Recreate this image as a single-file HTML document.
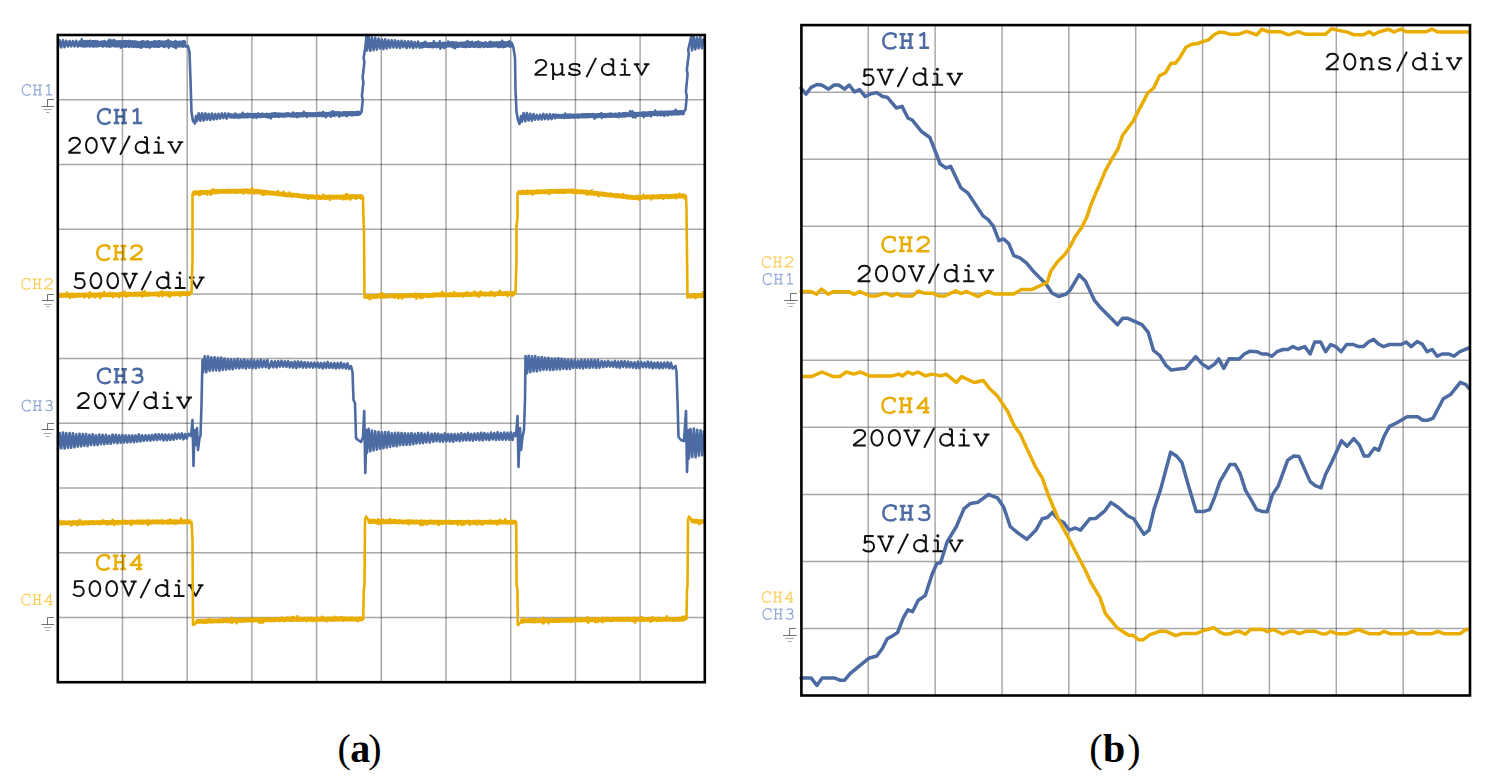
<!DOCTYPE html><html><head><meta charset="utf-8"><title>Waveforms</title><style>html,body{margin:0;padding:0;background:#fff;width:1490px;height:781px;overflow:hidden}svg{display:block;font-family:"Liberation Mono",monospace}</style></head><body><svg width="1490" height="781" viewBox="0 0 1490 781">
<rect width="1490" height="781" fill="#fff"/>
<path d="M47.5,99.5H54.0M47.5,99.5V106.5M41.5,106.5H54.0M47.5,294.5H54.0M47.5,294.5V300.5M41.7,300.5H54.0M47.5,423.5H54.0M47.5,423.5V429.5M41.5,429.5H54.0M47.5,617.5H54.0M47.5,617.5V624.5M41.5,624.5H54.0M790.5,293.5H797.0M790.5,293.5V300.5M784.1,300.5H797.8M789.5,628.5H796.0M789.5,628.5V635.5M783.0,635.5H796.6" stroke="#000" stroke-opacity="0.55" stroke-width="1.0" fill="none"/>
<path d="M43.9,109.5H51.6M46.1,112.5H49.4M44.0,304.5H51.7M46.3,306.5H49.4M43.9,433.5H51.6M46.1,436.5H49.4M43.9,627.5H51.6M46.1,630.5H49.4M786.7,303.5H795.2M789.2,306.5H792.7M785.6,638.5H794.0M788.0,641.5H791.6" stroke="#000" stroke-opacity="0.35" stroke-width="1.0" fill="none"/>
<g><title>CH1</title><g transform="translate(20.31,95.30) scale(0.6786,0.6786)"><g fill="none" stroke="#91a8d4" stroke-width="1.250" stroke-linecap="butt" stroke-linejoin="round"><path vector-effect="non-scaling-stroke" transform="translate(0.00,0)" d="M14.6,-11.0 V-14.5 C13.2,-15.4 11.6,-15.9 10.0,-15.9 C5.6,-15.9 2.8,-12.4 2.8,-7.8 C2.8,-3.0 5.6,0.2 9.8,0.2 C12.0,0.2 13.8,-0.7 15.2,-2.2"/><path vector-effect="non-scaling-stroke" transform="translate(16.80,0)" d="M4.6,-15.0 V-0.8 M12.2,-15.0 V-0.8 M4.6,-8.0 H12.2 M1.8,-15.0 H7.4 M9.4,-15.0 H15.0 M1.8,-0.8 H7.4 M9.4,-0.8 H15.0"/><path vector-effect="non-scaling-stroke" transform="translate(33.60,0)" d="M4.0,-13.2 L8.6,-16.0 V-0.8 M4.2,-0.8 H13.4"/></g><g fill="#91a8d4"></g></g></g>
<g><title>CH2</title><g transform="translate(19.98,289.25) scale(0.6786,0.6786)"><g fill="none" stroke="#f9cd55" stroke-width="1.250" stroke-linecap="butt" stroke-linejoin="round"><path vector-effect="non-scaling-stroke" transform="translate(0.00,0)" d="M14.6,-11.0 V-14.5 C13.2,-15.4 11.6,-15.9 10.0,-15.9 C5.6,-15.9 2.8,-12.4 2.8,-7.8 C2.8,-3.0 5.6,0.2 9.8,0.2 C12.0,0.2 13.8,-0.7 15.2,-2.2"/><path vector-effect="non-scaling-stroke" transform="translate(16.80,0)" d="M4.6,-15.0 V-0.8 M12.2,-15.0 V-0.8 M4.6,-8.0 H12.2 M1.8,-15.0 H7.4 M9.4,-15.0 H15.0 M1.8,-0.8 H7.4 M9.4,-0.8 H15.0"/><path vector-effect="non-scaling-stroke" transform="translate(33.60,0)" d="M3.2,-11.8 C3.5,-14.2 5.7,-15.6 8.6,-15.6 C11.6,-15.6 13.8,-13.9 13.8,-11.5 C13.8,-9.2 11.4,-7.6 8.6,-5.6 L2.9,-1.2 V-0.6 H14.4"/></g><g fill="#f9cd55"></g></g></g>
<g><title>CH3</title><g transform="translate(20.30,410.95) scale(0.6786,0.6786)"><g fill="none" stroke="#91a8d4" stroke-width="1.250" stroke-linecap="butt" stroke-linejoin="round"><path vector-effect="non-scaling-stroke" transform="translate(0.00,0)" d="M14.6,-11.0 V-14.5 C13.2,-15.4 11.6,-15.9 10.0,-15.9 C5.6,-15.9 2.8,-12.4 2.8,-7.8 C2.8,-3.0 5.6,0.2 9.8,0.2 C12.0,0.2 13.8,-0.7 15.2,-2.2"/><path vector-effect="non-scaling-stroke" transform="translate(16.80,0)" d="M4.6,-15.0 V-0.8 M12.2,-15.0 V-0.8 M4.6,-8.0 H12.2 M1.8,-15.0 H7.4 M9.4,-15.0 H15.0 M1.8,-0.8 H7.4 M9.4,-0.8 H15.0"/><path vector-effect="non-scaling-stroke" transform="translate(33.60,0)" d="M4.0,-13.6 C5.0,-15.0 6.6,-15.6 8.4,-15.6 C11.0,-15.6 12.8,-14.2 12.8,-12.0 C12.8,-9.8 11.0,-8.4 8.2,-8.4 H6.8 M8.2,-8.4 C11.6,-8.4 13.6,-6.8 13.6,-4.4 C13.6,-1.8 11.4,-0.4 8.4,-0.4 C6.2,-0.4 4.4,-1.0 3.0,-2.4"/></g><g fill="#91a8d4"></g></g></g>
<g><title>CH4</title><g transform="translate(19.97,604.95) scale(0.6786,0.6786)"><g fill="none" stroke="#f9cd55" stroke-width="1.250" stroke-linecap="butt" stroke-linejoin="round"><path vector-effect="non-scaling-stroke" transform="translate(0.00,0)" d="M14.6,-11.0 V-14.5 C13.2,-15.4 11.6,-15.9 10.0,-15.9 C5.6,-15.9 2.8,-12.4 2.8,-7.8 C2.8,-3.0 5.6,0.2 9.8,0.2 C12.0,0.2 13.8,-0.7 15.2,-2.2"/><path vector-effect="non-scaling-stroke" transform="translate(16.80,0)" d="M4.6,-15.0 V-0.8 M12.2,-15.0 V-0.8 M4.6,-8.0 H12.2 M1.8,-15.0 H7.4 M9.4,-15.0 H15.0 M1.8,-0.8 H7.4 M9.4,-0.8 H15.0"/><path vector-effect="non-scaling-stroke" transform="translate(33.60,0)" d="M11.4,-0.6 V-15.6 L3.0,-5.0 H14.4 M8.2,-0.6 H14.4"/></g><g fill="#f9cd55"></g></g></g>
<g><title>CH2</title><g transform="translate(760.43,267.35) scale(0.6786,0.6786)"><g fill="none" stroke="#f9cd55" stroke-width="1.250" stroke-linecap="butt" stroke-linejoin="round"><path vector-effect="non-scaling-stroke" transform="translate(0.00,0)" d="M14.6,-11.0 V-14.5 C13.2,-15.4 11.6,-15.9 10.0,-15.9 C5.6,-15.9 2.8,-12.4 2.8,-7.8 C2.8,-3.0 5.6,0.2 9.8,0.2 C12.0,0.2 13.8,-0.7 15.2,-2.2"/><path vector-effect="non-scaling-stroke" transform="translate(16.80,0)" d="M4.6,-15.0 V-0.8 M12.2,-15.0 V-0.8 M4.6,-8.0 H12.2 M1.8,-15.0 H7.4 M9.4,-15.0 H15.0 M1.8,-0.8 H7.4 M9.4,-0.8 H15.0"/><path vector-effect="non-scaling-stroke" transform="translate(33.60,0)" d="M3.2,-11.8 C3.5,-14.2 5.7,-15.6 8.6,-15.6 C11.6,-15.6 13.8,-13.9 13.8,-11.5 C13.8,-9.2 11.4,-7.6 8.6,-5.6 L2.9,-1.2 V-0.6 H14.4"/></g><g fill="#f9cd55"></g></g></g>
<g><title>CH1</title><g transform="translate(761.26,284.45) scale(0.6786,0.6786)"><g fill="none" stroke="#91a8d4" stroke-width="1.250" stroke-linecap="butt" stroke-linejoin="round"><path vector-effect="non-scaling-stroke" transform="translate(0.00,0)" d="M14.6,-11.0 V-14.5 C13.2,-15.4 11.6,-15.9 10.0,-15.9 C5.6,-15.9 2.8,-12.4 2.8,-7.8 C2.8,-3.0 5.6,0.2 9.8,0.2 C12.0,0.2 13.8,-0.7 15.2,-2.2"/><path vector-effect="non-scaling-stroke" transform="translate(16.80,0)" d="M4.6,-15.0 V-0.8 M12.2,-15.0 V-0.8 M4.6,-8.0 H12.2 M1.8,-15.0 H7.4 M9.4,-15.0 H15.0 M1.8,-0.8 H7.4 M9.4,-0.8 H15.0"/><path vector-effect="non-scaling-stroke" transform="translate(33.60,0)" d="M4.0,-13.2 L8.6,-16.0 V-0.8 M4.2,-0.8 H13.4"/></g><g fill="#91a8d4"></g></g></g>
<g><title>CH4</title><g transform="translate(760.52,602.35) scale(0.6786,0.6786)"><g fill="none" stroke="#f9cd55" stroke-width="1.250" stroke-linecap="butt" stroke-linejoin="round"><path vector-effect="non-scaling-stroke" transform="translate(0.00,0)" d="M14.6,-11.0 V-14.5 C13.2,-15.4 11.6,-15.9 10.0,-15.9 C5.6,-15.9 2.8,-12.4 2.8,-7.8 C2.8,-3.0 5.6,0.2 9.8,0.2 C12.0,0.2 13.8,-0.7 15.2,-2.2"/><path vector-effect="non-scaling-stroke" transform="translate(16.80,0)" d="M4.6,-15.0 V-0.8 M12.2,-15.0 V-0.8 M4.6,-8.0 H12.2 M1.8,-15.0 H7.4 M9.4,-15.0 H15.0 M1.8,-0.8 H7.4 M9.4,-0.8 H15.0"/><path vector-effect="non-scaling-stroke" transform="translate(33.60,0)" d="M11.4,-0.6 V-15.6 L3.0,-5.0 H14.4 M8.2,-0.6 H14.4"/></g><g fill="#f9cd55"></g></g></g>
<g><title>CH3</title><g transform="translate(761.10,619.35) scale(0.6786,0.6786)"><g fill="none" stroke="#91a8d4" stroke-width="1.250" stroke-linecap="butt" stroke-linejoin="round"><path vector-effect="non-scaling-stroke" transform="translate(0.00,0)" d="M14.6,-11.0 V-14.5 C13.2,-15.4 11.6,-15.9 10.0,-15.9 C5.6,-15.9 2.8,-12.4 2.8,-7.8 C2.8,-3.0 5.6,0.2 9.8,0.2 C12.0,0.2 13.8,-0.7 15.2,-2.2"/><path vector-effect="non-scaling-stroke" transform="translate(16.80,0)" d="M4.6,-15.0 V-0.8 M12.2,-15.0 V-0.8 M4.6,-8.0 H12.2 M1.8,-15.0 H7.4 M9.4,-15.0 H15.0 M1.8,-0.8 H7.4 M9.4,-0.8 H15.0"/><path vector-effect="non-scaling-stroke" transform="translate(33.60,0)" d="M4.0,-13.6 C5.0,-15.0 6.6,-15.6 8.4,-15.6 C11.0,-15.6 12.8,-14.2 12.8,-12.0 C12.8,-9.8 11.0,-8.4 8.2,-8.4 H6.8 M8.2,-8.4 C11.6,-8.4 13.6,-6.8 13.6,-4.4 C13.6,-1.8 11.4,-0.4 8.4,-0.4 C6.2,-0.4 4.4,-1.0 3.0,-2.4"/></g><g fill="#91a8d4"></g></g></g>
<g><title>CH1</title><g transform="translate(95.13,123.75) scale(1.0000,0.9200)"><g fill="none" stroke="#4b6ba2" stroke-width="2.500" stroke-linecap="butt" stroke-linejoin="round"><path vector-effect="non-scaling-stroke" transform="translate(0.00,0)" d="M14.6,-11.0 V-14.5 C13.2,-15.4 11.6,-15.9 10.0,-15.9 C5.6,-15.9 2.8,-12.4 2.8,-7.8 C2.8,-3.0 5.6,0.2 9.8,0.2 C12.0,0.2 13.8,-0.7 15.2,-2.2"/><path vector-effect="non-scaling-stroke" transform="translate(16.80,0)" d="M4.6,-15.0 V-0.8 M12.2,-15.0 V-0.8 M4.6,-8.0 H12.2 M1.8,-15.0 H7.4 M9.4,-15.0 H15.0 M1.8,-0.8 H7.4 M9.4,-0.8 H15.0"/><path vector-effect="non-scaling-stroke" transform="translate(33.60,0)" d="M4.0,-13.2 L8.6,-16.0 V-0.8 M4.2,-0.8 H13.4"/></g><g fill="#4b6ba2"></g></g></g>
<g><title>20V/div</title><g transform="translate(66.21,153.33) scale(1.0000,1.0000)"><g fill="none" stroke="#111" stroke-width="1.950" stroke-linecap="butt" stroke-linejoin="round"><path vector-effect="non-scaling-stroke" transform="translate(0.00,0)" d="M3.2,-11.8 C3.5,-14.2 5.7,-15.6 8.6,-15.6 C11.6,-15.6 13.8,-13.9 13.8,-11.5 C13.8,-9.2 11.4,-7.6 8.6,-5.6 L2.9,-1.2 V-0.6 H14.4"/><path vector-effect="non-scaling-stroke" transform="translate(16.80,0)" d="M8.4,-15.6 C11.4,-15.6 13.8,-12.4 13.8,-8.0 C13.8,-3.6 11.4,-0.4 8.4,-0.4 C5.4,-0.4 3.0,-3.6 3.0,-8.0 C3.0,-12.4 5.4,-15.6 8.4,-15.6 Z"/><path vector-effect="non-scaling-stroke" transform="translate(33.60,0)" d="M0.4,-15.0 H6.4 M10.6,-15.0 H16.6 M2.6,-15.0 L8.6,-0.8 L14.6,-15.0"/><path vector-effect="non-scaling-stroke" transform="translate(50.40,0)" d="M13.2,-17.6 L3.6,1.6"/><path vector-effect="non-scaling-stroke" transform="translate(67.20,0)" d="M13.6,-16.2 V-0.6 M10.6,-16.2 H13.6 M13.6,-0.6 H16.2 M13.6,-8.6 C12.4,-10.6 10.6,-11.6 8.2,-11.6 C4.8,-11.6 2.2,-9.2 2.2,-5.9 C2.2,-2.6 4.8,-0.4 8.2,-0.4 C10.6,-0.4 12.4,-1.4 13.6,-3.2"/><path vector-effect="non-scaling-stroke" transform="translate(84.00,0)" d="M8.4,-11.2 V-0.6 M4.4,-11.2 H8.4 M3.2,-0.6 H14.0"/><path vector-effect="non-scaling-stroke" transform="translate(100.80,0)" d="M0.6,-11.2 H6.2 M10.6,-11.2 H16.2 M2.6,-11.2 L8.4,-0.6 L14.2,-11.2"/></g><g fill="#111"><circle cx="92.40" cy="-15.6" r="1.52"/></g></g></g>
<g><title>2µs/div</title><g transform="translate(532.46,75.48) scale(1.0000,1.0000)"><g fill="none" stroke="#111" stroke-width="1.950" stroke-linecap="butt" stroke-linejoin="round"><path vector-effect="non-scaling-stroke" transform="translate(0.00,0)" d="M3.2,-11.8 C3.5,-14.2 5.7,-15.6 8.6,-15.6 C11.6,-15.6 13.8,-13.9 13.8,-11.5 C13.8,-9.2 11.4,-7.6 8.6,-5.6 L2.9,-1.2 V-0.6 H14.4"/><path vector-effect="non-scaling-stroke" transform="translate(16.80,0)" d="M1.4,-11.2 H3.8 V4.6 M3.8,-4.6 C4.0,-1.8 5.8,-0.6 8.0,-0.6 C10.2,-0.6 11.8,-1.6 13.0,-3.0 M10.6,-11.2 H13.0 V-0.6 H15.6"/><path vector-effect="non-scaling-stroke" transform="translate(33.60,0)" d="M13.2,-8.4 V-10.6 C12.0,-11.4 10.4,-11.6 8.6,-11.6 C5.4,-11.6 3.6,-10.4 3.6,-8.6 C3.6,-6.6 5.8,-6.2 8.4,-5.8 C11.6,-5.4 13.8,-4.8 13.8,-2.8 C13.8,-1.2 11.8,-0.4 8.6,-0.4 C6.4,-0.4 4.6,-0.8 3.2,-1.6 M3.2,-0.6 V-3.6"/><path vector-effect="non-scaling-stroke" transform="translate(50.40,0)" d="M13.2,-17.6 L3.6,1.6"/><path vector-effect="non-scaling-stroke" transform="translate(67.20,0)" d="M13.6,-16.2 V-0.6 M10.6,-16.2 H13.6 M13.6,-0.6 H16.2 M13.6,-8.6 C12.4,-10.6 10.6,-11.6 8.2,-11.6 C4.8,-11.6 2.2,-9.2 2.2,-5.9 C2.2,-2.6 4.8,-0.4 8.2,-0.4 C10.6,-0.4 12.4,-1.4 13.6,-3.2"/><path vector-effect="non-scaling-stroke" transform="translate(84.00,0)" d="M8.4,-11.2 V-0.6 M4.4,-11.2 H8.4 M3.2,-0.6 H14.0"/><path vector-effect="non-scaling-stroke" transform="translate(100.80,0)" d="M0.6,-11.2 H6.2 M10.6,-11.2 H16.2 M2.6,-11.2 L8.4,-0.6 L14.2,-11.2"/></g><g fill="#111"><circle cx="92.40" cy="-15.6" r="1.52"/></g></g></g>
<g><title>CH2</title><g transform="translate(94.46,259.90) scale(1.0000,0.9200)"><g fill="none" stroke="#e8ad00" stroke-width="2.500" stroke-linecap="butt" stroke-linejoin="round"><path vector-effect="non-scaling-stroke" transform="translate(0.00,0)" d="M14.6,-11.0 V-14.5 C13.2,-15.4 11.6,-15.9 10.0,-15.9 C5.6,-15.9 2.8,-12.4 2.8,-7.8 C2.8,-3.0 5.6,0.2 9.8,0.2 C12.0,0.2 13.8,-0.7 15.2,-2.2"/><path vector-effect="non-scaling-stroke" transform="translate(16.80,0)" d="M4.6,-15.0 V-0.8 M12.2,-15.0 V-0.8 M4.6,-8.0 H12.2 M1.8,-15.0 H7.4 M9.4,-15.0 H15.0 M1.8,-0.8 H7.4 M9.4,-0.8 H15.0"/><path vector-effect="non-scaling-stroke" transform="translate(33.60,0)" d="M3.2,-11.8 C3.5,-14.2 5.7,-15.6 8.6,-15.6 C11.6,-15.6 13.8,-13.9 13.8,-11.5 C13.8,-9.2 11.4,-7.6 8.6,-5.6 L2.9,-1.2 V-0.6 H14.4"/></g><g fill="#e8ad00"></g></g></g>
<g><title>500V/div</title><g transform="translate(70.74,288.68) scale(1.0000,1.0000)"><g fill="none" stroke="#111" stroke-width="1.950" stroke-linecap="butt" stroke-linejoin="round"><path vector-effect="non-scaling-stroke" transform="translate(0.00,0)" d="M13.6,-15.4 H5.4 L5.0,-8.8 C6.2,-9.6 7.6,-10.0 9.0,-10.0 C12.0,-10.0 14.0,-7.9 14.0,-5.1 C14.0,-2.2 11.8,-0.4 8.8,-0.4 C6.6,-0.4 4.6,-1.2 3.2,-2.6"/><path vector-effect="non-scaling-stroke" transform="translate(16.80,0)" d="M8.4,-15.6 C11.4,-15.6 13.8,-12.4 13.8,-8.0 C13.8,-3.6 11.4,-0.4 8.4,-0.4 C5.4,-0.4 3.0,-3.6 3.0,-8.0 C3.0,-12.4 5.4,-15.6 8.4,-15.6 Z"/><path vector-effect="non-scaling-stroke" transform="translate(33.60,0)" d="M8.4,-15.6 C11.4,-15.6 13.8,-12.4 13.8,-8.0 C13.8,-3.6 11.4,-0.4 8.4,-0.4 C5.4,-0.4 3.0,-3.6 3.0,-8.0 C3.0,-12.4 5.4,-15.6 8.4,-15.6 Z"/><path vector-effect="non-scaling-stroke" transform="translate(50.40,0)" d="M0.4,-15.0 H6.4 M10.6,-15.0 H16.6 M2.6,-15.0 L8.6,-0.8 L14.6,-15.0"/><path vector-effect="non-scaling-stroke" transform="translate(67.20,0)" d="M13.2,-17.6 L3.6,1.6"/><path vector-effect="non-scaling-stroke" transform="translate(84.00,0)" d="M13.6,-16.2 V-0.6 M10.6,-16.2 H13.6 M13.6,-0.6 H16.2 M13.6,-8.6 C12.4,-10.6 10.6,-11.6 8.2,-11.6 C4.8,-11.6 2.2,-9.2 2.2,-5.9 C2.2,-2.6 4.8,-0.4 8.2,-0.4 C10.6,-0.4 12.4,-1.4 13.6,-3.2"/><path vector-effect="non-scaling-stroke" transform="translate(100.80,0)" d="M8.4,-11.2 V-0.6 M4.4,-11.2 H8.4 M3.2,-0.6 H14.0"/><path vector-effect="non-scaling-stroke" transform="translate(117.60,0)" d="M0.6,-11.2 H6.2 M10.6,-11.2 H16.2 M2.6,-11.2 L8.4,-0.6 L14.2,-11.2"/></g><g fill="#111"><circle cx="109.20" cy="-15.6" r="1.52"/></g></g></g>
<g><title>CH3</title><g transform="translate(95.15,383.10) scale(1.0000,0.9200)"><g fill="none" stroke="#4b6ba2" stroke-width="2.500" stroke-linecap="butt" stroke-linejoin="round"><path vector-effect="non-scaling-stroke" transform="translate(0.00,0)" d="M14.6,-11.0 V-14.5 C13.2,-15.4 11.6,-15.9 10.0,-15.9 C5.6,-15.9 2.8,-12.4 2.8,-7.8 C2.8,-3.0 5.6,0.2 9.8,0.2 C12.0,0.2 13.8,-0.7 15.2,-2.2"/><path vector-effect="non-scaling-stroke" transform="translate(16.80,0)" d="M4.6,-15.0 V-0.8 M12.2,-15.0 V-0.8 M4.6,-8.0 H12.2 M1.8,-15.0 H7.4 M9.4,-15.0 H15.0 M1.8,-0.8 H7.4 M9.4,-0.8 H15.0"/><path vector-effect="non-scaling-stroke" transform="translate(33.60,0)" d="M4.0,-13.6 C5.0,-15.0 6.6,-15.6 8.4,-15.6 C11.0,-15.6 12.8,-14.2 12.8,-12.0 C12.8,-9.8 11.0,-8.4 8.2,-8.4 H6.8 M8.2,-8.4 C11.6,-8.4 13.6,-6.8 13.6,-4.4 C13.6,-1.8 11.4,-0.4 8.4,-0.4 C6.2,-0.4 4.4,-1.0 3.0,-2.4"/></g><g fill="#4b6ba2"></g></g></g>
<g><title>20V/div</title><g transform="translate(74.96,408.68) scale(1.0000,1.0000)"><g fill="none" stroke="#111" stroke-width="1.950" stroke-linecap="butt" stroke-linejoin="round"><path vector-effect="non-scaling-stroke" transform="translate(0.00,0)" d="M3.2,-11.8 C3.5,-14.2 5.7,-15.6 8.6,-15.6 C11.6,-15.6 13.8,-13.9 13.8,-11.5 C13.8,-9.2 11.4,-7.6 8.6,-5.6 L2.9,-1.2 V-0.6 H14.4"/><path vector-effect="non-scaling-stroke" transform="translate(16.80,0)" d="M8.4,-15.6 C11.4,-15.6 13.8,-12.4 13.8,-8.0 C13.8,-3.6 11.4,-0.4 8.4,-0.4 C5.4,-0.4 3.0,-3.6 3.0,-8.0 C3.0,-12.4 5.4,-15.6 8.4,-15.6 Z"/><path vector-effect="non-scaling-stroke" transform="translate(33.60,0)" d="M0.4,-15.0 H6.4 M10.6,-15.0 H16.6 M2.6,-15.0 L8.6,-0.8 L14.6,-15.0"/><path vector-effect="non-scaling-stroke" transform="translate(50.40,0)" d="M13.2,-17.6 L3.6,1.6"/><path vector-effect="non-scaling-stroke" transform="translate(67.20,0)" d="M13.6,-16.2 V-0.6 M10.6,-16.2 H13.6 M13.6,-0.6 H16.2 M13.6,-8.6 C12.4,-10.6 10.6,-11.6 8.2,-11.6 C4.8,-11.6 2.2,-9.2 2.2,-5.9 C2.2,-2.6 4.8,-0.4 8.2,-0.4 C10.6,-0.4 12.4,-1.4 13.6,-3.2"/><path vector-effect="non-scaling-stroke" transform="translate(84.00,0)" d="M8.4,-11.2 V-0.6 M4.4,-11.2 H8.4 M3.2,-0.6 H14.0"/><path vector-effect="non-scaling-stroke" transform="translate(100.80,0)" d="M0.6,-11.2 H6.2 M10.6,-11.2 H16.2 M2.6,-11.2 L8.4,-0.6 L14.2,-11.2"/></g><g fill="#111"><circle cx="92.40" cy="-15.6" r="1.52"/></g></g></g>
<g><title>CH4</title><g transform="translate(94.23,569.65) scale(1.0000,0.9200)"><g fill="none" stroke="#e8ad00" stroke-width="2.500" stroke-linecap="butt" stroke-linejoin="round"><path vector-effect="non-scaling-stroke" transform="translate(0.00,0)" d="M14.6,-11.0 V-14.5 C13.2,-15.4 11.6,-15.9 10.0,-15.9 C5.6,-15.9 2.8,-12.4 2.8,-7.8 C2.8,-3.0 5.6,0.2 9.8,0.2 C12.0,0.2 13.8,-0.7 15.2,-2.2"/><path vector-effect="non-scaling-stroke" transform="translate(16.80,0)" d="M4.6,-15.0 V-0.8 M12.2,-15.0 V-0.8 M4.6,-8.0 H12.2 M1.8,-15.0 H7.4 M9.4,-15.0 H15.0 M1.8,-0.8 H7.4 M9.4,-0.8 H15.0"/><path vector-effect="non-scaling-stroke" transform="translate(33.60,0)" d="M11.4,-0.6 V-15.6 L3.0,-5.0 H14.4 M8.2,-0.6 H14.4"/></g><g fill="#e8ad00"></g></g></g>
<g><title>500V/div</title><g transform="translate(69.69,596.53) scale(1.0000,1.0000)"><g fill="none" stroke="#111" stroke-width="1.950" stroke-linecap="butt" stroke-linejoin="round"><path vector-effect="non-scaling-stroke" transform="translate(0.00,0)" d="M13.6,-15.4 H5.4 L5.0,-8.8 C6.2,-9.6 7.6,-10.0 9.0,-10.0 C12.0,-10.0 14.0,-7.9 14.0,-5.1 C14.0,-2.2 11.8,-0.4 8.8,-0.4 C6.6,-0.4 4.6,-1.2 3.2,-2.6"/><path vector-effect="non-scaling-stroke" transform="translate(16.80,0)" d="M8.4,-15.6 C11.4,-15.6 13.8,-12.4 13.8,-8.0 C13.8,-3.6 11.4,-0.4 8.4,-0.4 C5.4,-0.4 3.0,-3.6 3.0,-8.0 C3.0,-12.4 5.4,-15.6 8.4,-15.6 Z"/><path vector-effect="non-scaling-stroke" transform="translate(33.60,0)" d="M8.4,-15.6 C11.4,-15.6 13.8,-12.4 13.8,-8.0 C13.8,-3.6 11.4,-0.4 8.4,-0.4 C5.4,-0.4 3.0,-3.6 3.0,-8.0 C3.0,-12.4 5.4,-15.6 8.4,-15.6 Z"/><path vector-effect="non-scaling-stroke" transform="translate(50.40,0)" d="M0.4,-15.0 H6.4 M10.6,-15.0 H16.6 M2.6,-15.0 L8.6,-0.8 L14.6,-15.0"/><path vector-effect="non-scaling-stroke" transform="translate(67.20,0)" d="M13.2,-17.6 L3.6,1.6"/><path vector-effect="non-scaling-stroke" transform="translate(84.00,0)" d="M13.6,-16.2 V-0.6 M10.6,-16.2 H13.6 M13.6,-0.6 H16.2 M13.6,-8.6 C12.4,-10.6 10.6,-11.6 8.2,-11.6 C4.8,-11.6 2.2,-9.2 2.2,-5.9 C2.2,-2.6 4.8,-0.4 8.2,-0.4 C10.6,-0.4 12.4,-1.4 13.6,-3.2"/><path vector-effect="non-scaling-stroke" transform="translate(100.80,0)" d="M8.4,-11.2 V-0.6 M4.4,-11.2 H8.4 M3.2,-0.6 H14.0"/><path vector-effect="non-scaling-stroke" transform="translate(117.60,0)" d="M0.6,-11.2 H6.2 M10.6,-11.2 H16.2 M2.6,-11.2 L8.4,-0.6 L14.2,-11.2"/></g><g fill="#111"><circle cx="109.20" cy="-15.6" r="1.52"/></g></g></g>
<g><title>CH1</title><g transform="translate(880.38,48.42) scale(1.0357,0.9529)"><g fill="none" stroke="#4b6ba2" stroke-width="2.500" stroke-linecap="butt" stroke-linejoin="round"><path vector-effect="non-scaling-stroke" transform="translate(0.00,0)" d="M14.6,-11.0 V-14.5 C13.2,-15.4 11.6,-15.9 10.0,-15.9 C5.6,-15.9 2.8,-12.4 2.8,-7.8 C2.8,-3.0 5.6,0.2 9.8,0.2 C12.0,0.2 13.8,-0.7 15.2,-2.2"/><path vector-effect="non-scaling-stroke" transform="translate(16.80,0)" d="M4.6,-15.0 V-0.8 M12.2,-15.0 V-0.8 M4.6,-8.0 H12.2 M1.8,-15.0 H7.4 M9.4,-15.0 H15.0 M1.8,-0.8 H7.4 M9.4,-0.8 H15.0"/><path vector-effect="non-scaling-stroke" transform="translate(33.60,0)" d="M4.0,-13.2 L8.6,-16.0 V-0.8 M4.2,-0.8 H13.4"/></g><g fill="#4b6ba2"></g></g></g>
<g><title>5V/div</title><g transform="translate(859.05,85.38) scale(1.0357,1.0357)"><g fill="none" stroke="#111" stroke-width="2.000" stroke-linecap="butt" stroke-linejoin="round"><path vector-effect="non-scaling-stroke" transform="translate(0.00,0)" d="M13.6,-15.4 H5.4 L5.0,-8.8 C6.2,-9.6 7.6,-10.0 9.0,-10.0 C12.0,-10.0 14.0,-7.9 14.0,-5.1 C14.0,-2.2 11.8,-0.4 8.8,-0.4 C6.6,-0.4 4.6,-1.2 3.2,-2.6"/><path vector-effect="non-scaling-stroke" transform="translate(16.80,0)" d="M0.4,-15.0 H6.4 M10.6,-15.0 H16.6 M2.6,-15.0 L8.6,-0.8 L14.6,-15.0"/><path vector-effect="non-scaling-stroke" transform="translate(33.60,0)" d="M13.2,-17.6 L3.6,1.6"/><path vector-effect="non-scaling-stroke" transform="translate(50.40,0)" d="M13.6,-16.2 V-0.6 M10.6,-16.2 H13.6 M13.6,-0.6 H16.2 M13.6,-8.6 C12.4,-10.6 10.6,-11.6 8.2,-11.6 C4.8,-11.6 2.2,-9.2 2.2,-5.9 C2.2,-2.6 4.8,-0.4 8.2,-0.4 C10.6,-0.4 12.4,-1.4 13.6,-3.2"/><path vector-effect="non-scaling-stroke" transform="translate(67.20,0)" d="M8.4,-11.2 V-0.6 M4.4,-11.2 H8.4 M3.2,-0.6 H14.0"/><path vector-effect="non-scaling-stroke" transform="translate(84.00,0)" d="M0.6,-11.2 H6.2 M10.6,-11.2 H16.2 M2.6,-11.2 L8.4,-0.6 L14.2,-11.2"/></g><g fill="#111"><circle cx="75.60" cy="-15.6" r="1.51"/></g></g></g>
<g><title>20ns/div</title><g transform="translate(1323.67,69.97) scale(1.0357,1.0357)"><g fill="none" stroke="#111" stroke-width="2.000" stroke-linecap="butt" stroke-linejoin="round"><path vector-effect="non-scaling-stroke" transform="translate(0.00,0)" d="M3.2,-11.8 C3.5,-14.2 5.7,-15.6 8.6,-15.6 C11.6,-15.6 13.8,-13.9 13.8,-11.5 C13.8,-9.2 11.4,-7.6 8.6,-5.6 L2.9,-1.2 V-0.6 H14.4"/><path vector-effect="non-scaling-stroke" transform="translate(16.80,0)" d="M8.4,-15.6 C11.4,-15.6 13.8,-12.4 13.8,-8.0 C13.8,-3.6 11.4,-0.4 8.4,-0.4 C5.4,-0.4 3.0,-3.6 3.0,-8.0 C3.0,-12.4 5.4,-15.6 8.4,-15.6 Z"/><path vector-effect="non-scaling-stroke" transform="translate(33.60,0)" d="M1.4,-11.2 H4.0 V-0.6 M1.4,-0.6 H7.0 M4.0,-8.4 C5.4,-10.4 7.4,-11.6 9.4,-11.6 C11.4,-11.6 12.6,-10.4 12.6,-8.2 V-0.6 M10.0,-0.6 H15.4"/><path vector-effect="non-scaling-stroke" transform="translate(50.40,0)" d="M13.2,-8.4 V-10.6 C12.0,-11.4 10.4,-11.6 8.6,-11.6 C5.4,-11.6 3.6,-10.4 3.6,-8.6 C3.6,-6.6 5.8,-6.2 8.4,-5.8 C11.6,-5.4 13.8,-4.8 13.8,-2.8 C13.8,-1.2 11.8,-0.4 8.6,-0.4 C6.4,-0.4 4.6,-0.8 3.2,-1.6 M3.2,-0.6 V-3.6"/><path vector-effect="non-scaling-stroke" transform="translate(67.20,0)" d="M13.2,-17.6 L3.6,1.6"/><path vector-effect="non-scaling-stroke" transform="translate(84.00,0)" d="M13.6,-16.2 V-0.6 M10.6,-16.2 H13.6 M13.6,-0.6 H16.2 M13.6,-8.6 C12.4,-10.6 10.6,-11.6 8.2,-11.6 C4.8,-11.6 2.2,-9.2 2.2,-5.9 C2.2,-2.6 4.8,-0.4 8.2,-0.4 C10.6,-0.4 12.4,-1.4 13.6,-3.2"/><path vector-effect="non-scaling-stroke" transform="translate(100.80,0)" d="M8.4,-11.2 V-0.6 M4.4,-11.2 H8.4 M3.2,-0.6 H14.0"/><path vector-effect="non-scaling-stroke" transform="translate(117.60,0)" d="M0.6,-11.2 H6.2 M10.6,-11.2 H16.2 M2.6,-11.2 L8.4,-0.6 L14.2,-11.2"/></g><g fill="#111"><circle cx="109.20" cy="-15.6" r="1.51"/></g></g></g>
<g><title>CH2</title><g transform="translate(879.64,251.87) scale(1.0357,0.9529)"><g fill="none" stroke="#e8ad00" stroke-width="2.500" stroke-linecap="butt" stroke-linejoin="round"><path vector-effect="non-scaling-stroke" transform="translate(0.00,0)" d="M14.6,-11.0 V-14.5 C13.2,-15.4 11.6,-15.9 10.0,-15.9 C5.6,-15.9 2.8,-12.4 2.8,-7.8 C2.8,-3.0 5.6,0.2 9.8,0.2 C12.0,0.2 13.8,-0.7 15.2,-2.2"/><path vector-effect="non-scaling-stroke" transform="translate(16.80,0)" d="M4.6,-15.0 V-0.8 M12.2,-15.0 V-0.8 M4.6,-8.0 H12.2 M1.8,-15.0 H7.4 M9.4,-15.0 H15.0 M1.8,-0.8 H7.4 M9.4,-0.8 H15.0"/><path vector-effect="non-scaling-stroke" transform="translate(33.60,0)" d="M3.2,-11.8 C3.5,-14.2 5.7,-15.6 8.6,-15.6 C11.6,-15.6 13.8,-13.9 13.8,-11.5 C13.8,-9.2 11.4,-7.6 8.6,-5.6 L2.9,-1.2 V-0.6 H14.4"/></g><g fill="#e8ad00"></g></g></g>
<g><title>200V/div</title><g transform="translate(855.47,281.87) scale(1.0357,1.0357)"><g fill="none" stroke="#111" stroke-width="2.000" stroke-linecap="butt" stroke-linejoin="round"><path vector-effect="non-scaling-stroke" transform="translate(0.00,0)" d="M3.2,-11.8 C3.5,-14.2 5.7,-15.6 8.6,-15.6 C11.6,-15.6 13.8,-13.9 13.8,-11.5 C13.8,-9.2 11.4,-7.6 8.6,-5.6 L2.9,-1.2 V-0.6 H14.4"/><path vector-effect="non-scaling-stroke" transform="translate(16.80,0)" d="M8.4,-15.6 C11.4,-15.6 13.8,-12.4 13.8,-8.0 C13.8,-3.6 11.4,-0.4 8.4,-0.4 C5.4,-0.4 3.0,-3.6 3.0,-8.0 C3.0,-12.4 5.4,-15.6 8.4,-15.6 Z"/><path vector-effect="non-scaling-stroke" transform="translate(33.60,0)" d="M8.4,-15.6 C11.4,-15.6 13.8,-12.4 13.8,-8.0 C13.8,-3.6 11.4,-0.4 8.4,-0.4 C5.4,-0.4 3.0,-3.6 3.0,-8.0 C3.0,-12.4 5.4,-15.6 8.4,-15.6 Z"/><path vector-effect="non-scaling-stroke" transform="translate(50.40,0)" d="M0.4,-15.0 H6.4 M10.6,-15.0 H16.6 M2.6,-15.0 L8.6,-0.8 L14.6,-15.0"/><path vector-effect="non-scaling-stroke" transform="translate(67.20,0)" d="M13.2,-17.6 L3.6,1.6"/><path vector-effect="non-scaling-stroke" transform="translate(84.00,0)" d="M13.6,-16.2 V-0.6 M10.6,-16.2 H13.6 M13.6,-0.6 H16.2 M13.6,-8.6 C12.4,-10.6 10.6,-11.6 8.2,-11.6 C4.8,-11.6 2.2,-9.2 2.2,-5.9 C2.2,-2.6 4.8,-0.4 8.2,-0.4 C10.6,-0.4 12.4,-1.4 13.6,-3.2"/><path vector-effect="non-scaling-stroke" transform="translate(100.80,0)" d="M8.4,-11.2 V-0.6 M4.4,-11.2 H8.4 M3.2,-0.6 H14.0"/><path vector-effect="non-scaling-stroke" transform="translate(117.60,0)" d="M0.6,-11.2 H6.2 M10.6,-11.2 H16.2 M2.6,-11.2 L8.4,-0.6 L14.2,-11.2"/></g><g fill="#111"><circle cx="109.20" cy="-15.6" r="1.51"/></g></g></g>
<g><title>CH4</title><g transform="translate(879.51,412.82) scale(1.0357,0.9529)"><g fill="none" stroke="#e8ad00" stroke-width="2.500" stroke-linecap="butt" stroke-linejoin="round"><path vector-effect="non-scaling-stroke" transform="translate(0.00,0)" d="M14.6,-11.0 V-14.5 C13.2,-15.4 11.6,-15.9 10.0,-15.9 C5.6,-15.9 2.8,-12.4 2.8,-7.8 C2.8,-3.0 5.6,0.2 9.8,0.2 C12.0,0.2 13.8,-0.7 15.2,-2.2"/><path vector-effect="non-scaling-stroke" transform="translate(16.80,0)" d="M4.6,-15.0 V-0.8 M12.2,-15.0 V-0.8 M4.6,-8.0 H12.2 M1.8,-15.0 H7.4 M9.4,-15.0 H15.0 M1.8,-0.8 H7.4 M9.4,-0.8 H15.0"/><path vector-effect="non-scaling-stroke" transform="translate(33.60,0)" d="M11.4,-0.6 V-15.6 L3.0,-5.0 H14.4 M8.2,-0.6 H14.4"/></g><g fill="#e8ad00"></g></g></g>
<g><title>200V/div</title><g transform="translate(850.87,446.12) scale(1.0357,1.0357)"><g fill="none" stroke="#111" stroke-width="2.000" stroke-linecap="butt" stroke-linejoin="round"><path vector-effect="non-scaling-stroke" transform="translate(0.00,0)" d="M3.2,-11.8 C3.5,-14.2 5.7,-15.6 8.6,-15.6 C11.6,-15.6 13.8,-13.9 13.8,-11.5 C13.8,-9.2 11.4,-7.6 8.6,-5.6 L2.9,-1.2 V-0.6 H14.4"/><path vector-effect="non-scaling-stroke" transform="translate(16.80,0)" d="M8.4,-15.6 C11.4,-15.6 13.8,-12.4 13.8,-8.0 C13.8,-3.6 11.4,-0.4 8.4,-0.4 C5.4,-0.4 3.0,-3.6 3.0,-8.0 C3.0,-12.4 5.4,-15.6 8.4,-15.6 Z"/><path vector-effect="non-scaling-stroke" transform="translate(33.60,0)" d="M8.4,-15.6 C11.4,-15.6 13.8,-12.4 13.8,-8.0 C13.8,-3.6 11.4,-0.4 8.4,-0.4 C5.4,-0.4 3.0,-3.6 3.0,-8.0 C3.0,-12.4 5.4,-15.6 8.4,-15.6 Z"/><path vector-effect="non-scaling-stroke" transform="translate(50.40,0)" d="M0.4,-15.0 H6.4 M10.6,-15.0 H16.6 M2.6,-15.0 L8.6,-0.8 L14.6,-15.0"/><path vector-effect="non-scaling-stroke" transform="translate(67.20,0)" d="M13.2,-17.6 L3.6,1.6"/><path vector-effect="non-scaling-stroke" transform="translate(84.00,0)" d="M13.6,-16.2 V-0.6 M10.6,-16.2 H13.6 M13.6,-0.6 H16.2 M13.6,-8.6 C12.4,-10.6 10.6,-11.6 8.2,-11.6 C4.8,-11.6 2.2,-9.2 2.2,-5.9 C2.2,-2.6 4.8,-0.4 8.2,-0.4 C10.6,-0.4 12.4,-1.4 13.6,-3.2"/><path vector-effect="non-scaling-stroke" transform="translate(100.80,0)" d="M8.4,-11.2 V-0.6 M4.4,-11.2 H8.4 M3.2,-0.6 H14.0"/><path vector-effect="non-scaling-stroke" transform="translate(117.60,0)" d="M0.6,-11.2 H6.2 M10.6,-11.2 H16.2 M2.6,-11.2 L8.4,-0.6 L14.2,-11.2"/></g><g fill="#111"><circle cx="109.20" cy="-15.6" r="1.51"/></g></g></g>
<g><title>CH3</title><g transform="translate(880.45,520.37) scale(1.0357,0.9529)"><g fill="none" stroke="#4b6ba2" stroke-width="2.500" stroke-linecap="butt" stroke-linejoin="round"><path vector-effect="non-scaling-stroke" transform="translate(0.00,0)" d="M14.6,-11.0 V-14.5 C13.2,-15.4 11.6,-15.9 10.0,-15.9 C5.6,-15.9 2.8,-12.4 2.8,-7.8 C2.8,-3.0 5.6,0.2 9.8,0.2 C12.0,0.2 13.8,-0.7 15.2,-2.2"/><path vector-effect="non-scaling-stroke" transform="translate(16.80,0)" d="M4.6,-15.0 V-0.8 M12.2,-15.0 V-0.8 M4.6,-8.0 H12.2 M1.8,-15.0 H7.4 M9.4,-15.0 H15.0 M1.8,-0.8 H7.4 M9.4,-0.8 H15.0"/><path vector-effect="non-scaling-stroke" transform="translate(33.60,0)" d="M4.0,-13.6 C5.0,-15.0 6.6,-15.6 8.4,-15.6 C11.0,-15.6 12.8,-14.2 12.8,-12.0 C12.8,-9.8 11.0,-8.4 8.2,-8.4 H6.8 M8.2,-8.4 C11.6,-8.4 13.6,-6.8 13.6,-4.4 C13.6,-1.8 11.4,-0.4 8.4,-0.4 C6.2,-0.4 4.4,-1.0 3.0,-2.4"/></g><g fill="#4b6ba2"></g></g></g>
<g><title>5V/div</title><g transform="translate(859.55,551.98) scale(1.0357,1.0357)"><g fill="none" stroke="#111" stroke-width="2.000" stroke-linecap="butt" stroke-linejoin="round"><path vector-effect="non-scaling-stroke" transform="translate(0.00,0)" d="M13.6,-15.4 H5.4 L5.0,-8.8 C6.2,-9.6 7.6,-10.0 9.0,-10.0 C12.0,-10.0 14.0,-7.9 14.0,-5.1 C14.0,-2.2 11.8,-0.4 8.8,-0.4 C6.6,-0.4 4.6,-1.2 3.2,-2.6"/><path vector-effect="non-scaling-stroke" transform="translate(16.80,0)" d="M0.4,-15.0 H6.4 M10.6,-15.0 H16.6 M2.6,-15.0 L8.6,-0.8 L14.6,-15.0"/><path vector-effect="non-scaling-stroke" transform="translate(33.60,0)" d="M13.2,-17.6 L3.6,1.6"/><path vector-effect="non-scaling-stroke" transform="translate(50.40,0)" d="M13.6,-16.2 V-0.6 M10.6,-16.2 H13.6 M13.6,-0.6 H16.2 M13.6,-8.6 C12.4,-10.6 10.6,-11.6 8.2,-11.6 C4.8,-11.6 2.2,-9.2 2.2,-5.9 C2.2,-2.6 4.8,-0.4 8.2,-0.4 C10.6,-0.4 12.4,-1.4 13.6,-3.2"/><path vector-effect="non-scaling-stroke" transform="translate(67.20,0)" d="M8.4,-11.2 V-0.6 M4.4,-11.2 H8.4 M3.2,-0.6 H14.0"/><path vector-effect="non-scaling-stroke" transform="translate(84.00,0)" d="M0.6,-11.2 H6.2 M10.6,-11.2 H16.2 M2.6,-11.2 L8.4,-0.6 L14.2,-11.2"/></g><g fill="#111"><circle cx="75.60" cy="-15.6" r="1.51"/></g></g></g>
<path d="M868.26,25.10V695.50M935.12,25.10V695.50M1001.98,25.10V695.50M1068.84,25.10V695.50M1135.70,25.10V695.50M1202.56,25.10V695.50M1269.42,25.10V695.50M1336.28,25.10V695.50M1403.14,25.10V695.50" stroke="#000" stroke-opacity="0.34" stroke-width="1.5" fill="none"/>
<path d="M801.40,92.14H1470.00M801.40,159.18H1470.00M801.40,226.22H1470.00M801.40,293.26H1470.00M801.40,360.30H1470.00M801.40,427.34H1470.00M801.40,494.38H1470.00M801.40,561.42H1470.00M801.40,628.46H1470.00" stroke="#000" stroke-opacity="0.34" stroke-width="1.5" fill="none"/>
<path d="M122.50,35.00V682.20M187.20,35.00V682.20M251.90,35.00V682.20M316.60,35.00V682.20M381.30,35.00V682.20M446.00,35.00V682.20M510.70,35.00V682.20M575.40,35.00V682.20M640.10,35.00V682.20" stroke="#000" stroke-opacity="0.34" stroke-width="1.5" fill="none"/>
<path d="M57.80,99.72H704.80M57.80,164.44H704.80M57.80,229.16H704.80M57.80,293.88H704.80M57.80,358.60H704.80M57.80,423.32H704.80M57.80,488.04H704.80M57.80,552.76H704.80M57.80,617.48H704.80" stroke="#000" stroke-opacity="0.34" stroke-width="1.5" fill="none"/>
<path d="M58.0,47.3 L59.6,40.2 L61.3,47.5 L62.9,40.3 L64.6,47.2 L66.2,40.8 L67.9,46.5 L69.6,41.1 L71.2,46.3 L72.9,41.1 L74.5,46.3 L76.2,40.8 L77.8,46.6 L79.5,41.7 L80.0,45.6 L80.6,41.3 L81.2,46.2 L81.8,39.2 L82.4,45.9 L83.0,42.0 L83.6,46.6 L84.2,41.4 L84.8,46.0 L85.4,41.1 L86.0,46.4 L86.6,41.8 L87.2,46.1 L87.8,41.1 L88.4,45.8 L89.0,41.5 L89.6,46.5 L90.2,40.9 L90.8,46.1 L91.4,42.0 L92.0,45.6 L92.6,41.2 L93.2,46.7 L93.8,41.3 L94.4,46.3 L95.0,41.1 L95.6,46.2 L96.2,42.1 L96.8,46.4 L97.4,41.1 L98.0,46.1 L98.6,42.2 L99.2,45.8 L99.8,42.2 L100.4,45.7 L101.0,41.7 L101.6,45.7 L102.2,41.5 L102.8,46.7 L103.4,41.9 L104.0,46.0 L104.6,41.0 L105.2,45.8 L105.8,42.0 L106.4,46.4 L107.0,42.3 L107.6,46.1 L108.2,41.0 L108.8,46.3 L109.4,39.7 L110.0,46.6 L110.6,41.2 L111.2,46.1 L111.8,40.6 L112.4,45.9 L113.0,41.0 L113.6,45.8 L114.2,40.1 L114.8,46.4 L115.4,42.0 L116.0,46.1 L116.6,41.2 L117.2,46.3 L117.8,42.2 L118.4,46.1 L119.0,41.2 L119.6,45.7 L120.2,41.6 L120.8,47.7 L121.4,41.0 L122.0,46.6 L122.6,41.9 L123.2,46.7 L123.8,41.3 L124.4,46.0 L125.0,41.0 L125.6,46.8 L126.2,41.4 L126.8,46.4 L127.4,41.3 L128.0,46.0 L128.6,41.1 L129.2,46.9 L129.8,41.1 L130.4,46.0 L131.0,42.1 L131.6,46.5 L132.2,41.3 L132.8,46.6 L133.4,42.3 L134.0,46.9 L134.6,41.4 L135.2,46.0 L135.8,42.0 L136.4,47.0 L137.0,41.9 L137.6,46.7 L138.2,42.3 L138.8,46.9 L139.4,42.2 L140.0,47.1 L140.6,42.0 L141.2,47.7 L141.8,41.6 L142.4,47.0 L143.0,41.3 L143.6,46.0 L144.2,42.1 L144.8,46.5 L145.4,41.9 L146.0,47.0 L146.6,41.8 L147.2,47.0 L147.8,41.2 L148.4,46.5 L149.0,42.5 L149.6,47.6 L150.2,42.2 L150.8,46.8 L151.4,42.0 L152.0,46.5 L152.6,42.3 L153.2,46.1 L153.8,41.5 L154.4,46.6 L155.0,41.3 L155.6,46.6 L156.2,41.8 L156.8,46.4 L157.4,41.9 L158.0,46.8 L158.6,41.2 L159.2,46.6 L159.8,41.4 L160.4,46.0 L161.0,42.4 L161.6,45.9 L162.2,41.5 L162.8,46.0 L163.4,41.7 L164.0,47.0 L164.6,42.3 L165.2,46.4 L165.8,41.2 L166.4,46.1 L167.0,41.9 L167.6,46.1 L168.2,40.2 L168.8,47.6 L169.4,41.7 L170.0,46.0 L170.6,41.5 L171.2,46.0 L171.8,42.5 L172.4,46.3 L173.0,42.0 L173.6,47.0 L174.2,42.4 L174.8,46.7 L175.4,41.0 L176.0,48.2 L176.6,41.7 L177.2,46.0 L177.8,42.5 L178.4,46.5 L179.0,41.9 L179.6,46.3 L180.2,41.9 L180.8,46.1 L181.4,42.6 L182.0,46.4 L182.6,41.6 L183.2,46.6 L183.8,41.1 L184.4,46.0 L185.0,41.9 L185.6,46.6 L188.0,46.0 L189.5,52.0 L190.5,80.0 L191.5,112.0 L193.0,121.0 L195.0,123.5 L196.0,116.0 L197.0,121.0 L198.7,113.2 L200.3,120.7 L202.0,113.2 L203.6,120.6 L205.3,113.4 L206.9,119.8 L208.6,113.9 L210.2,120.0 L211.9,113.6 L213.5,119.5 L215.2,114.1 L216.8,119.0 L218.5,113.8 L220.1,118.5 L221.8,113.4 L223.4,118.0 L225.1,113.4 L226.7,118.6 L228.4,113.6 L230.0,117.1 L230.6,114.4 L231.2,117.4 L231.8,114.8 L232.4,117.2 L233.0,114.7 L233.6,117.6 L234.2,114.6 L234.8,117.6 L235.4,113.5 L236.0,117.2 L236.6,114.8 L237.2,116.8 L237.8,114.9 L238.4,117.9 L239.0,114.7 L239.6,117.2 L240.2,114.4 L240.8,117.4 L241.4,114.6 L242.0,116.8 L242.6,112.7 L243.2,117.4 L243.8,114.3 L244.4,116.8 L245.0,114.4 L245.6,117.3 L246.2,114.3 L246.8,117.2 L247.4,113.7 L248.0,116.9 L248.6,114.1 L249.2,117.1 L249.8,114.2 L250.4,116.6 L251.0,114.1 L251.6,117.0 L252.2,114.6 L252.8,117.8 L253.4,114.1 L254.0,117.1 L254.6,114.3 L255.2,116.9 L255.8,114.0 L256.4,117.9 L257.0,114.4 L257.6,116.7 L258.2,113.5 L258.8,117.0 L259.4,114.0 L260.0,116.8 L260.6,114.2 L261.2,117.1 L261.8,113.8 L262.4,116.4 L263.0,113.9 L263.6,116.7 L264.2,114.3 L264.8,116.5 L265.4,114.3 L266.0,117.0 L266.6,113.8 L267.2,117.0 L267.8,114.2 L268.4,117.5 L269.0,114.0 L269.6,116.5 L270.2,114.1 L270.8,118.4 L271.4,113.7 L272.0,116.9 L272.6,113.6 L273.2,116.5 L273.8,113.6 L274.4,116.4 L275.0,113.2 L275.6,116.8 L276.2,113.6 L276.8,116.3 L277.4,114.1 L278.0,116.8 L278.6,113.6 L279.2,116.8 L279.8,113.8 L280.4,116.1 L281.0,113.8 L281.6,116.5 L282.2,114.1 L282.8,116.1 L283.4,113.9 L284.0,116.6 L284.6,113.9 L285.2,116.2 L285.8,113.8 L286.4,116.1 L287.0,113.4 L287.6,116.1 L288.2,113.3 L288.8,116.0 L289.4,114.0 L290.0,116.0 L290.6,113.8 L291.2,116.6 L291.8,113.7 L292.4,116.3 L293.0,112.6 L293.6,116.6 L294.2,113.6 L294.8,116.5 L295.4,113.7 L296.0,116.1 L296.6,113.2 L297.2,117.3 L297.8,113.4 L298.4,116.1 L299.0,113.9 L299.6,116.5 L300.2,113.2 L300.8,115.9 L301.4,113.7 L302.0,116.2 L302.6,113.3 L303.2,116.3 L303.8,111.8 L304.4,115.8 L305.0,113.3 L305.6,115.7 L306.2,113.2 L306.8,117.0 L307.4,113.3 L308.0,115.7 L308.6,113.7 L309.2,115.9 L309.8,113.2 L310.4,115.9 L311.0,113.4 L311.6,116.0 L312.2,113.6 L312.8,116.0 L313.4,113.4 L314.0,116.1 L314.6,113.5 L315.2,115.7 L315.8,113.4 L316.4,115.9 L317.0,113.3 L317.6,115.6 L318.2,113.3 L318.8,115.9 L319.4,112.7 L320.0,115.4 L320.6,113.1 L321.2,116.0 L321.8,113.1 L322.4,116.0 L323.0,112.1 L323.6,115.9 L324.2,112.8 L324.8,115.9 L325.4,113.2 L326.0,117.2 L326.6,113.0 L327.2,115.4 L327.8,113.3 L328.4,115.4 L329.0,113.1 L329.6,115.3 L330.2,112.6 L330.8,116.7 L331.4,112.9 L332.0,115.2 L332.6,111.3 L333.2,115.6 L333.8,112.2 L334.4,115.7 L335.0,112.5 L335.6,115.2 L336.2,112.3 L336.8,115.1 L337.4,112.8 L338.0,114.9 L338.6,112.3 L339.2,116.6 L339.8,112.6 L340.4,115.6 L341.0,112.8 L341.6,115.2 L342.2,112.8 L342.8,115.4 L343.4,112.3 L344.0,115.0 L344.6,112.6 L345.2,114.8 L345.8,112.3 L346.4,116.1 L347.0,112.6 L347.6,115.4 L348.2,112.6 L348.8,114.8 L349.4,112.3 L350.0,114.8 L350.6,112.3 L351.2,115.2 L351.8,112.2 L352.4,115.2 L353.0,112.3 L353.6,115.1 L354.2,112.5 L354.8,114.7 L355.4,112.2 L356.0,114.8 L356.6,112.3 L357.2,115.1 L357.8,111.9 L358.4,114.8 L359.0,111.9 L359.6,114.5 L361.5,112.0 L362.8,100.0 L361.9,96.0 L363.4,82.0 L362.6,78.0 L364.4,62.0 L363.6,58.0 L365.5,46.0 L366.5,35.0 L367.0,50.5 L368.6,36.1 L370.3,50.8 L371.9,37.4 L373.6,50.2 L375.2,37.9 L376.9,49.6 L378.5,38.6 L380.2,48.5 L381.8,39.5 L383.5,49.1 L385.1,39.2 L386.8,48.4 L388.4,40.2 L390.1,47.8 L391.7,40.2 L393.4,47.5 L395.0,40.3 L396.7,47.6 L398.3,41.0 L400.0,48.0 L401.6,40.8 L403.3,47.2 L404.9,41.2 L406.6,48.0 L408.2,41.2 L409.9,47.5 L411.5,41.4 L413.2,48.1 L414.8,42.0 L416.5,47.3 L418.1,41.6 L419.8,47.7 L420.0,47.0 L420.6,43.5 L421.2,47.1 L421.8,43.3 L422.4,47.4 L423.0,43.0 L423.6,46.8 L424.2,42.5 L424.8,46.5 L425.4,41.7 L426.0,46.8 L426.6,43.2 L427.2,46.8 L427.8,43.6 L428.4,47.0 L429.0,43.5 L429.6,46.7 L430.2,43.4 L430.8,46.9 L431.4,43.5 L432.0,47.2 L432.6,43.4 L433.2,47.3 L433.8,41.3 L434.4,46.7 L435.0,42.9 L435.6,46.4 L436.2,43.3 L436.8,47.2 L437.4,43.4 L438.0,46.7 L438.6,43.1 L439.2,46.5 L439.8,41.2 L440.4,48.7 L441.0,43.4 L441.6,46.8 L442.2,43.2 L442.8,46.9 L443.4,42.8 L444.0,48.1 L444.6,43.0 L445.2,47.1 L445.8,43.0 L446.4,46.7 L447.0,43.4 L447.6,46.3 L448.2,41.5 L448.8,46.3 L449.4,42.6 L450.0,46.2 L450.6,43.1 L451.2,46.3 L451.8,42.4 L452.4,47.1 L453.0,42.4 L453.6,47.2 L454.2,43.3 L454.8,48.3 L455.4,42.6 L456.0,47.1 L456.6,42.6 L457.2,46.7 L457.8,43.2 L458.4,46.7 L459.0,43.4 L459.6,46.3 L460.2,42.7 L460.8,46.3 L461.4,43.3 L462.0,46.8 L462.6,42.5 L463.2,46.8 L463.8,43.3 L464.4,46.8 L465.0,42.5 L465.6,47.2 L466.2,43.0 L466.8,46.6 L467.4,41.0 L468.0,46.4 L468.6,42.3 L469.2,46.8 L469.8,42.4 L470.4,46.8 L471.0,42.8 L471.6,46.2 L472.2,41.8 L472.8,46.5 L473.4,43.0 L474.0,46.7 L474.6,43.1 L475.2,46.6 L475.8,42.3 L476.4,46.2 L477.0,42.6 L477.6,46.9 L478.2,41.6 L478.8,46.6 L479.4,42.6 L480.0,47.1 L480.6,43.0 L481.2,46.1 L481.8,42.9 L482.4,46.1 L483.0,43.3 L483.6,47.0 L484.2,43.1 L484.8,46.6 L485.4,42.4 L486.0,46.3 L486.6,43.2 L487.2,46.8 L487.8,43.3 L488.4,46.8 L489.0,42.5 L489.6,46.2 L490.2,41.9 L490.8,46.8 L491.4,42.3 L492.0,46.2 L492.6,42.8 L493.2,46.5 L493.8,42.5 L494.4,46.2 L495.0,43.2 L495.6,46.2 L496.2,42.2 L496.8,46.3 L497.4,42.9 L498.0,46.9 L498.6,42.5 L499.2,47.0 L499.8,42.3 L500.4,46.9 L501.0,42.4 L501.6,46.2 L502.2,40.8 L502.8,47.0 L503.4,42.2 L504.0,46.9 L504.6,42.4 L505.2,46.7 L505.8,43.1 L506.4,46.3 L507.0,42.3 L507.6,45.9 L508.2,42.2 L508.8,46.0 L509.4,41.4 L510.0,46.8 L510.6,42.3 L511.2,46.2 L511.8,43.0 L513.5,48.0 L515.0,58.0 L515.5,90.0 L516.5,112.0 L518.0,120.0 L519.5,124.0 L521.0,116.0 L522.0,121.6 L523.6,113.1 L525.3,121.2 L526.9,113.1 L528.6,120.5 L530.2,113.7 L531.9,120.6 L533.5,114.0 L535.2,119.7 L536.8,114.9 L538.5,119.6 L540.1,114.8 L541.8,119.5 L543.4,113.9 L545.1,119.1 L546.7,114.4 L548.4,119.3 L550.0,114.2 L551.7,119.1 L553.3,114.4 L555.0,118.3 L555.0,118.1 L555.6,114.9 L556.2,117.4 L556.8,114.9 L557.4,117.4 L558.0,115.1 L558.6,117.5 L559.2,115.2 L559.8,117.5 L560.4,115.2 L561.0,117.8 L561.6,115.3 L562.2,117.3 L562.8,114.9 L563.4,117.7 L564.0,115.1 L564.6,117.9 L565.2,113.6 L565.8,117.4 L566.4,114.9 L567.0,117.8 L567.6,114.9 L568.2,117.7 L568.8,114.8 L569.4,117.4 L570.0,114.6 L570.6,117.6 L571.2,114.9 L571.8,117.5 L572.4,114.8 L573.0,117.2 L573.6,114.9 L574.2,117.6 L574.8,115.0 L575.4,117.2 L576.0,115.0 L576.6,117.1 L577.2,114.5 L577.8,117.6 L578.4,114.7 L579.0,117.5 L579.6,114.7 L580.2,117.3 L580.8,114.8 L581.4,116.9 L582.0,114.3 L582.6,117.2 L583.2,114.6 L583.8,117.2 L584.4,114.3 L585.0,117.1 L585.6,114.3 L586.2,116.9 L586.8,114.2 L587.4,117.2 L588.0,114.3 L588.6,117.0 L589.2,114.3 L589.8,117.0 L590.4,114.2 L591.0,116.8 L591.6,114.4 L592.2,116.9 L592.8,114.0 L593.4,117.0 L594.0,114.4 L594.6,118.6 L595.2,114.5 L595.8,117.2 L596.4,114.5 L597.0,116.9 L597.6,114.2 L598.2,117.1 L598.8,114.2 L599.4,116.6 L600.0,114.2 L600.6,116.5 L601.2,113.2 L601.8,117.9 L602.4,114.1 L603.0,116.6 L603.6,114.3 L604.2,117.0 L604.8,114.2 L605.4,116.6 L606.0,114.3 L606.6,116.9 L607.2,114.0 L607.8,116.4 L608.4,114.1 L609.0,116.8 L609.6,113.9 L610.2,116.6 L610.8,113.6 L611.4,116.8 L612.0,114.0 L612.6,116.4 L613.2,114.2 L613.8,116.3 L614.4,114.0 L615.0,116.4 L615.6,113.7 L616.2,116.7 L616.8,114.1 L617.4,116.7 L618.0,114.0 L618.6,117.3 L619.2,113.4 L619.8,116.1 L620.4,113.9 L621.0,116.5 L621.6,113.9 L622.2,116.5 L622.8,113.3 L623.4,116.4 L624.0,113.2 L624.6,116.4 L625.2,113.3 L625.8,116.3 L626.4,113.1 L627.0,115.9 L627.6,113.7 L628.2,115.7 L628.8,113.6 L629.4,115.9 L630.0,111.4 L630.6,115.9 L631.2,113.1 L631.8,115.8 L632.4,111.4 L633.0,117.3 L633.6,113.0 L634.2,115.6 L634.8,113.1 L635.4,117.5 L636.0,113.0 L636.6,115.9 L637.2,113.0 L637.8,115.8 L638.4,113.0 L639.0,115.6 L639.6,113.1 L640.2,115.5 L640.8,113.0 L641.4,115.8 L642.0,112.6 L642.6,115.3 L643.2,112.7 L643.8,117.1 L644.4,112.4 L645.0,115.0 L645.6,113.1 L646.2,115.6 L646.8,112.5 L647.4,115.6 L648.0,112.5 L648.6,115.4 L649.2,112.4 L649.8,115.3 L650.4,112.3 L651.0,116.4 L651.6,112.1 L652.2,115.0 L652.8,112.2 L653.4,114.8 L654.0,112.4 L654.6,114.9 L655.2,110.6 L655.8,114.6 L656.4,112.0 L657.0,115.2 L657.6,112.6 L658.2,114.9 L658.8,111.8 L659.4,114.7 L660.0,112.0 L660.6,115.3 L661.2,111.9 L661.8,115.0 L662.4,111.7 L663.0,114.3 L663.6,112.2 L664.2,115.9 L664.8,111.8 L665.4,114.7 L666.0,111.8 L666.6,114.5 L667.2,112.0 L667.8,115.4 L668.4,111.7 L669.0,114.1 L669.6,111.6 L670.2,114.6 L670.8,112.0 L671.4,114.4 L672.0,111.5 L672.6,114.5 L673.2,111.5 L673.8,114.2 L674.4,111.3 L675.0,114.4 L675.6,109.9 L676.2,114.3 L676.8,111.6 L677.4,114.4 L678.0,111.3 L678.6,114.0 L679.2,111.5 L679.8,114.1 L680.4,111.1 L681.0,113.6 L681.6,111.3 L682.2,114.1 L682.8,111.6 L683.4,114.1 L684.0,111.1 L685.5,110.0 L686.8,96.0 L685.9,92.0 L687.6,74.0 L686.8,70.0 L688.8,54.0 L688.2,50.0 L690.0,42.0 L691.5,35.0 L692.0,50.4 L693.6,36.8 L695.3,49.4 L696.9,37.7 L698.6,48.4 L700.2,37.2 L701.9,48.2 L703.5,38.4" stroke="#4b6ba2" stroke-width="2.6" fill="none" stroke-linejoin="round"/>
<path d="M58.0,296.5 L58.6,294.0 L59.2,296.7 L59.8,294.3 L60.4,296.5 L61.0,294.1 L61.6,296.3 L62.2,294.1 L62.8,296.6 L63.4,294.0 L64.0,296.6 L64.6,294.4 L65.2,296.3 L65.8,294.3 L66.4,296.5 L67.0,292.6 L67.6,296.4 L68.2,294.1 L68.8,296.3 L69.4,294.3 L70.0,297.9 L70.6,293.9 L71.2,296.5 L71.8,293.9 L72.4,296.7 L73.0,293.9 L73.6,297.3 L74.2,294.3 L74.8,296.1 L75.4,293.8 L76.0,296.7 L76.6,294.3 L77.2,296.3 L77.8,293.7 L78.4,296.4 L79.0,293.7 L79.6,296.3 L80.2,294.2 L80.8,296.6 L81.4,294.3 L82.0,296.2 L82.6,293.7 L83.2,296.0 L83.8,293.8 L84.4,297.5 L85.0,293.8 L85.6,296.4 L86.2,293.8 L86.8,296.0 L87.4,294.1 L88.0,296.2 L88.6,294.1 L89.2,297.8 L89.8,292.3 L90.4,296.0 L91.0,293.6 L91.6,295.9 L92.2,294.1 L92.8,296.4 L93.4,293.8 L94.0,296.3 L94.6,293.7 L95.2,297.4 L95.8,293.7 L96.4,296.3 L97.0,293.8 L97.6,295.9 L98.2,293.8 L98.8,296.0 L99.4,293.4 L100.0,298.0 L100.6,293.6 L101.2,296.0 L101.8,293.8 L102.4,295.9 L103.0,293.3 L103.6,295.7 L104.2,291.8 L104.8,295.8 L105.4,293.9 L106.0,295.8 L106.6,293.9 L107.2,295.9 L107.8,293.6 L108.4,295.7 L109.0,293.8 L109.6,296.1 L110.2,292.9 L110.8,295.9 L111.4,293.7 L112.0,295.9 L112.6,293.3 L113.2,297.2 L113.8,293.6 L114.4,295.5 L115.0,293.6 L115.6,296.0 L116.2,293.8 L116.8,295.8 L117.4,293.6 L118.0,296.0 L118.6,293.6 L119.2,297.1 L119.8,293.4 L120.4,295.5 L121.0,293.2 L121.6,295.6 L122.2,293.4 L122.8,295.4 L123.4,293.0 L124.0,295.7 L124.6,291.5 L125.2,295.5 L125.8,293.6 L126.4,296.7 L127.0,293.2 L127.6,295.3 L128.2,293.2 L128.8,295.7 L129.4,293.0 L130.0,295.3 L130.6,293.2 L131.2,295.4 L131.8,293.3 L132.4,295.6 L133.0,293.4 L133.6,295.7 L134.2,293.0 L134.8,295.4 L135.4,292.9 L136.0,295.4 L136.6,293.0 L137.2,295.3 L137.8,293.2 L138.4,295.6 L139.0,292.9 L139.6,295.1 L140.2,292.8 L140.8,295.2 L141.4,293.0 L142.0,296.6 L142.6,292.1 L143.2,295.7 L143.8,292.7 L144.4,295.6 L145.0,291.3 L145.6,295.2 L146.2,293.2 L146.8,295.6 L147.4,293.2 L148.0,295.3 L148.6,293.1 L149.2,295.4 L149.8,292.9 L150.4,295.3 L151.0,293.0 L151.6,295.0 L152.2,293.2 L152.8,295.2 L153.4,293.1 L154.0,295.2 L154.6,292.8 L155.2,295.3 L155.8,292.7 L156.4,295.2 L157.0,292.9 L157.6,295.0 L158.2,292.8 L158.8,296.3 L159.4,292.6 L160.0,295.2 L160.6,292.9 L161.2,295.0 L161.8,291.3 L162.4,296.2 L163.0,292.8 L163.6,294.8 L164.2,292.4 L164.8,294.8 L165.4,292.8 L166.0,295.1 L166.6,292.5 L167.2,295.2 L167.8,292.5 L168.4,295.2 L169.0,292.4 L169.6,296.8 L170.2,292.6 L170.8,295.3 L171.4,292.7 L172.0,295.2 L172.6,292.7 L173.2,294.9 L173.8,292.7 L174.4,294.9 L175.0,292.7 L175.6,295.1 L176.2,292.6 L176.8,294.7 L177.4,292.5 L178.0,294.6 L178.6,292.6 L179.2,295.1 L179.8,292.7 L180.4,295.9 L181.0,292.4 L181.6,295.1 L182.2,292.4 L182.8,294.8 L183.4,292.3 L184.0,294.7 L184.6,292.5 L185.2,294.9 L185.8,292.7 L186.4,294.7 L187.0,292.3 L187.6,295.0 L188.2,292.4 L188.8,295.0 L189.4,292.3 L190.0,294.4 L191.5,293.0 L192.5,260.0 L192.5,194.0 L193.0,194.5 L193.6,191.8 L194.2,194.4 L194.8,191.5 L195.4,194.3 L196.0,191.9 L196.6,194.0 L197.2,191.8 L197.8,194.0 L198.4,191.6 L199.0,195.1 L199.6,191.3 L200.2,195.0 L200.8,191.2 L201.4,193.8 L202.0,191.3 L202.6,193.5 L203.2,191.2 L203.8,193.6 L204.4,191.5 L205.0,193.7 L205.6,191.4 L206.2,193.4 L206.8,191.0 L207.4,194.6 L208.0,191.1 L208.6,193.2 L209.2,191.1 L209.8,193.5 L210.4,191.0 L211.0,194.8 L211.6,190.7 L212.2,193.1 L212.8,189.2 L213.4,193.3 L214.0,190.4 L214.6,192.8 L215.2,190.3 L215.8,193.2 L216.4,190.6 L217.0,192.6 L217.6,190.2 L218.2,193.0 L218.8,190.6 L219.4,192.5 L220.0,190.5 L220.6,192.4 L221.2,190.4 L221.8,192.3 L222.4,190.1 L223.0,192.4 L223.6,190.4 L224.2,192.3 L224.8,190.4 L225.4,192.7 L226.0,190.4 L226.6,192.3 L227.2,190.0 L227.8,192.3 L228.4,190.1 L229.0,192.8 L229.6,189.9 L230.2,192.3 L230.8,190.4 L231.4,192.3 L232.0,190.1 L232.6,192.3 L233.2,190.3 L233.8,192.2 L234.4,190.1 L235.0,192.6 L235.6,190.0 L236.2,192.3 L236.8,190.3 L237.4,192.6 L238.0,189.9 L238.6,192.4 L239.2,190.0 L239.8,192.1 L240.4,190.2 L241.0,192.5 L241.6,190.1 L242.2,192.5 L242.8,189.7 L243.4,193.6 L244.0,189.8 L244.6,192.2 L245.2,189.8 L245.8,192.5 L246.4,189.8 L247.0,192.0 L247.6,189.7 L248.2,192.9 L248.8,190.1 L249.4,193.2 L250.0,189.8 L250.6,192.4 L251.2,189.7 L251.8,192.2 L252.4,188.4 L253.0,192.6 L253.6,190.4 L254.2,193.6 L254.8,190.5 L255.4,192.4 L256.0,190.2 L256.6,192.9 L257.2,190.3 L257.8,192.7 L258.4,190.3 L259.0,193.3 L259.6,190.6 L260.2,193.2 L260.8,191.1 L261.4,193.2 L262.0,190.7 L262.6,195.0 L263.2,190.9 L263.8,193.5 L264.4,191.1 L265.0,194.6 L265.6,191.4 L266.2,193.6 L266.8,191.3 L267.4,193.7 L268.0,191.6 L268.6,194.3 L269.2,191.8 L269.8,193.8 L270.4,191.9 L271.0,194.2 L271.6,192.2 L272.2,194.4 L272.8,191.9 L273.4,194.2 L274.0,192.3 L274.6,194.3 L275.2,192.5 L275.8,194.7 L276.4,192.6 L277.0,194.7 L277.6,191.1 L278.2,195.1 L278.8,192.5 L279.4,195.1 L280.0,192.8 L280.6,195.0 L281.2,193.3 L281.8,195.4 L282.4,192.8 L283.0,195.3 L283.6,191.9 L284.2,195.8 L284.8,193.5 L285.4,195.9 L286.0,193.7 L286.6,196.0 L287.2,193.7 L287.8,196.2 L288.4,193.8 L289.0,196.0 L289.6,192.6 L290.2,196.3 L290.8,193.8 L291.4,196.6 L292.0,194.0 L292.6,196.3 L293.2,194.4 L293.8,196.3 L294.4,193.9 L295.0,196.3 L295.6,194.5 L296.2,196.4 L296.8,194.2 L297.4,196.8 L298.0,194.4 L298.6,196.9 L299.2,194.7 L299.8,197.3 L300.4,195.0 L301.0,197.1 L301.6,195.0 L302.2,197.0 L302.8,195.0 L303.4,197.6 L304.0,194.8 L304.6,197.5 L305.2,195.5 L305.8,197.6 L306.4,195.3 L307.0,197.7 L307.6,195.5 L308.2,199.0 L308.8,195.4 L309.4,197.6 L310.0,195.7 L310.6,197.9 L311.2,195.7 L311.8,197.8 L312.4,195.6 L313.0,198.0 L313.6,196.1 L314.2,198.3 L314.8,196.1 L315.4,198.2 L316.0,196.4 L316.6,198.6 L317.2,195.1 L317.8,198.9 L318.4,196.2 L319.0,198.4 L319.6,196.2 L320.2,198.8 L320.8,196.5 L321.4,198.6 L322.0,196.5 L322.6,198.3 L323.2,194.9 L323.8,198.3 L324.4,196.1 L325.0,198.8 L325.6,195.9 L326.2,198.8 L326.8,196.4 L327.4,198.3 L328.0,196.0 L328.6,198.2 L329.2,195.9 L329.8,199.9 L330.4,196.3 L331.0,198.6 L331.6,195.7 L332.2,198.2 L332.8,196.0 L333.4,198.4 L334.0,196.3 L334.6,198.5 L335.2,195.9 L335.8,198.4 L336.4,196.2 L337.0,198.3 L337.6,195.7 L338.2,197.9 L338.8,196.1 L339.4,198.4 L340.0,196.2 L340.6,198.4 L341.2,195.9 L341.8,197.9 L342.4,195.9 L343.0,199.3 L343.6,195.9 L344.2,199.1 L344.8,195.8 L345.4,198.1 L346.0,194.4 L346.6,199.2 L347.2,194.4 L347.8,198.1 L348.4,195.8 L349.0,197.8 L349.6,195.6 L350.2,199.6 L350.8,195.4 L351.4,198.1 L352.0,195.5 L352.6,197.7 L353.2,195.3 L353.8,198.0 L354.4,195.3 L355.0,197.8 L355.6,195.6 L356.2,198.9 L356.8,195.6 L357.4,197.8 L358.0,195.6 L358.6,197.6 L359.2,195.7 L359.8,197.7 L360.4,195.3 L361.0,198.6 L361.6,195.5 L363.0,197.0 L363.5,220.0 L364.0,232.0 L364.5,297.5 L366.0,297.0 L366.0,297.7 L366.6,295.4 L367.2,297.7 L367.8,295.5 L368.4,297.9 L369.0,295.1 L369.6,299.1 L370.2,295.0 L370.8,298.4 L371.4,295.4 L372.0,297.4 L372.6,295.4 L373.2,297.8 L373.8,295.4 L374.4,297.8 L375.0,295.4 L375.6,297.7 L376.2,295.4 L376.8,297.5 L377.4,295.0 L378.0,297.2 L378.6,294.9 L379.2,297.3 L379.8,294.0 L380.4,297.1 L381.0,295.1 L381.6,297.4 L382.2,293.3 L382.8,297.4 L383.4,295.3 L384.0,297.4 L384.6,295.2 L385.2,297.0 L385.8,295.2 L386.4,297.2 L387.0,294.9 L387.6,297.3 L388.2,295.0 L388.8,297.0 L389.4,294.7 L390.0,297.0 L390.6,294.5 L391.2,297.0 L391.8,294.5 L392.4,296.8 L393.0,294.7 L393.6,297.0 L394.2,294.9 L394.8,297.7 L395.4,295.0 L396.0,297.1 L396.6,294.4 L397.2,296.8 L397.8,294.5 L398.4,298.4 L399.0,294.8 L399.6,297.0 L400.2,294.7 L400.8,296.9 L401.4,294.3 L402.0,298.5 L402.6,294.7 L403.2,296.6 L403.8,294.6 L404.4,297.2 L405.0,294.7 L405.6,296.7 L406.2,294.7 L406.8,297.0 L407.4,294.6 L408.0,296.6 L408.6,294.7 L409.2,297.0 L409.8,294.3 L410.4,296.6 L411.0,294.4 L411.6,296.5 L412.2,294.3 L412.8,296.8 L413.4,294.6 L414.0,296.6 L414.6,294.1 L415.2,296.9 L415.8,293.6 L416.4,298.7 L417.0,294.5 L417.6,296.3 L418.2,294.2 L418.8,296.5 L419.4,294.1 L420.0,297.9 L420.6,294.0 L421.2,296.2 L421.8,294.4 L422.4,298.0 L423.0,294.3 L423.6,296.2 L424.2,294.4 L424.8,296.3 L425.4,294.4 L426.0,296.4 L426.6,294.2 L427.2,296.7 L427.8,294.3 L428.4,296.7 L429.0,294.2 L429.6,297.1 L430.2,294.0 L430.8,296.4 L431.4,294.3 L432.0,296.4 L432.6,294.0 L433.2,296.6 L433.8,293.8 L434.4,296.2 L435.0,293.6 L435.6,296.2 L436.2,294.2 L436.8,295.9 L437.4,293.6 L438.0,296.3 L438.6,294.0 L439.2,295.9 L439.8,293.6 L440.4,295.9 L441.0,293.9 L441.6,296.2 L442.2,291.9 L442.8,296.3 L443.4,293.7 L444.0,295.9 L444.6,293.6 L445.2,296.2 L445.8,293.7 L446.4,296.2 L447.0,293.6 L447.6,295.8 L448.2,293.8 L448.8,296.0 L449.4,293.6 L450.0,295.8 L450.6,293.3 L451.2,296.0 L451.8,293.4 L452.4,295.7 L453.0,293.6 L453.6,296.1 L454.2,292.1 L454.8,296.1 L455.4,293.8 L456.0,295.7 L456.6,293.6 L457.2,295.8 L457.8,293.8 L458.4,296.1 L459.0,293.5 L459.6,296.0 L460.2,293.7 L460.8,295.7 L461.4,293.6 L462.0,295.6 L462.6,293.7 L463.2,296.7 L463.8,293.2 L464.4,295.5 L465.0,293.1 L465.6,295.7 L466.2,293.5 L466.8,295.8 L467.4,292.1 L468.0,295.5 L468.6,293.4 L469.2,295.7 L469.8,293.3 L470.4,295.6 L471.0,293.4 L471.6,295.7 L472.2,293.1 L472.8,295.2 L473.4,293.2 L474.0,295.5 L474.6,291.6 L475.2,295.4 L475.8,292.9 L476.4,295.4 L477.0,293.1 L477.6,295.4 L478.2,292.9 L478.8,296.8 L479.4,293.0 L480.0,295.5 L480.6,291.6 L481.2,295.1 L481.8,292.8 L482.4,295.0 L483.0,292.8 L483.6,295.0 L484.2,293.0 L484.8,295.6 L485.4,292.7 L486.0,295.1 L486.6,293.2 L487.2,295.1 L487.8,293.0 L488.4,295.4 L489.0,292.8 L489.6,294.9 L490.2,292.6 L490.8,295.4 L491.4,291.7 L492.0,295.0 L492.6,292.8 L493.2,295.0 L493.8,292.9 L494.4,296.2 L495.0,292.7 L495.6,295.1 L496.2,292.9 L496.8,294.9 L497.4,292.5 L498.0,295.0 L498.6,292.7 L499.2,294.7 L499.8,290.9 L500.4,294.6 L501.0,292.8 L501.6,295.0 L502.2,292.6 L502.8,295.0 L503.4,292.7 L504.0,294.6 L504.6,292.7 L505.2,294.6 L505.8,292.2 L506.4,294.9 L507.0,292.2 L507.6,296.1 L508.2,292.8 L508.8,294.6 L509.4,292.4 L510.0,294.8 L510.6,292.1 L511.2,294.9 L511.8,292.2 L512.4,295.8 L513.0,292.3 L513.6,294.7 L515.5,293.0 L516.5,260.0 L516.5,226.0 L517.5,218.0 L517.5,193.0 L518.0,193.6 L518.6,191.4 L519.2,193.4 L519.8,191.5 L520.4,193.9 L521.0,191.2 L521.6,193.5 L522.2,191.2 L522.8,193.3 L523.4,190.9 L524.0,193.5 L524.6,191.4 L525.2,193.7 L525.8,191.3 L526.4,193.1 L527.0,190.8 L527.6,193.7 L528.2,191.4 L528.8,193.3 L529.4,190.9 L530.0,193.5 L530.6,191.3 L531.2,193.0 L531.8,190.8 L532.4,194.6 L533.0,191.2 L533.6,193.0 L534.2,191.0 L534.8,193.3 L535.4,191.1 L536.0,193.1 L536.6,190.6 L537.2,192.9 L537.8,190.5 L538.4,193.1 L539.0,191.0 L539.6,192.8 L540.2,190.7 L540.8,192.8 L541.4,190.9 L542.0,192.8 L542.6,190.7 L543.2,192.6 L543.8,190.6 L544.4,193.0 L545.0,190.8 L545.6,192.7 L546.2,190.9 L546.8,192.9 L547.4,190.3 L548.0,192.9 L548.6,190.4 L549.2,194.0 L549.8,190.4 L550.4,192.5 L551.0,190.3 L551.6,192.6 L552.2,190.4 L552.8,192.4 L553.4,190.4 L554.0,192.4 L554.6,190.2 L555.2,192.4 L555.8,190.5 L556.4,192.4 L557.0,190.0 L557.6,192.8 L558.2,190.2 L558.8,192.8 L559.4,190.1 L560.0,192.6 L560.6,190.0 L561.2,192.6 L561.8,190.4 L562.4,192.6 L563.0,190.4 L563.6,192.7 L564.2,189.9 L564.8,192.6 L565.4,190.1 L566.0,192.5 L566.6,190.1 L567.2,192.3 L567.8,190.2 L568.4,192.5 L569.0,189.7 L569.6,192.1 L570.2,190.1 L570.8,192.5 L571.4,189.7 L572.0,192.4 L572.6,189.7 L573.2,192.4 L573.8,190.2 L574.4,192.5 L575.0,190.0 L575.6,193.9 L576.2,190.5 L576.8,192.8 L577.4,190.2 L578.0,192.6 L578.6,190.5 L579.2,192.9 L579.8,190.9 L580.4,193.1 L581.0,190.6 L581.6,192.8 L582.2,191.1 L582.8,193.0 L583.4,190.7 L584.0,193.2 L584.6,191.0 L585.2,193.4 L585.8,190.9 L586.4,193.9 L587.0,191.1 L587.6,194.7 L588.2,191.2 L588.8,194.1 L589.4,191.7 L590.0,194.0 L590.6,191.7 L591.2,194.4 L591.8,190.3 L592.4,194.2 L593.0,192.1 L593.6,194.5 L594.2,192.1 L594.8,194.8 L595.4,192.4 L596.0,194.4 L596.6,192.3 L597.2,194.7 L597.8,192.3 L598.4,196.2 L599.0,192.9 L599.6,195.3 L600.2,192.7 L600.8,194.9 L601.4,192.7 L602.0,195.2 L602.6,193.2 L603.2,195.4 L603.8,193.1 L604.4,195.7 L605.0,193.0 L605.6,195.8 L606.2,193.7 L606.8,196.0 L607.4,193.7 L608.0,196.0 L608.6,193.9 L609.2,195.9 L609.8,194.1 L610.4,196.1 L611.0,193.6 L611.6,196.2 L612.2,194.3 L612.8,196.4 L613.4,194.4 L614.0,196.5 L614.6,194.5 L615.2,197.0 L615.8,194.2 L616.4,197.1 L617.0,194.8 L617.6,197.0 L618.2,194.6 L618.8,197.0 L619.4,194.6 L620.0,197.1 L620.6,195.2 L621.2,197.1 L621.8,195.1 L622.4,197.8 L623.0,194.1 L623.6,197.8 L624.2,195.4 L624.8,197.5 L625.4,195.4 L626.0,198.0 L626.6,195.5 L627.2,198.3 L627.8,195.9 L628.4,198.4 L629.0,196.1 L629.6,198.3 L630.2,195.9 L630.8,198.2 L631.4,196.5 L632.0,198.6 L632.6,196.2 L633.2,198.6 L633.8,196.5 L634.4,198.8 L635.0,196.5 L635.6,198.8 L636.2,196.0 L636.8,198.7 L637.4,196.1 L638.0,198.3 L638.6,196.0 L639.2,199.7 L639.8,195.9 L640.4,198.3 L641.0,196.4 L641.6,198.7 L642.2,196.2 L642.8,198.1 L643.4,194.7 L644.0,198.1 L644.6,196.3 L645.2,198.3 L645.8,196.3 L646.4,198.0 L647.0,195.8 L647.6,198.1 L648.2,196.1 L648.8,198.0 L649.4,195.7 L650.0,197.9 L650.6,196.1 L651.2,199.5 L651.8,195.6 L652.4,198.0 L653.0,195.7 L653.6,198.3 L654.2,195.5 L654.8,197.9 L655.4,196.0 L656.0,197.8 L656.6,195.5 L657.2,197.9 L657.8,195.8 L658.4,197.8 L659.0,195.4 L659.6,197.9 L660.2,195.4 L660.8,197.7 L661.4,195.4 L662.0,198.0 L662.6,195.2 L663.2,198.9 L663.8,195.8 L664.4,197.9 L665.0,195.6 L665.6,197.5 L666.2,195.0 L666.8,197.4 L667.4,195.4 L668.0,197.9 L668.6,195.6 L669.2,197.4 L669.8,195.3 L670.4,197.9 L671.0,195.3 L671.6,197.3 L672.2,195.2 L672.8,197.3 L673.4,195.5 L674.0,197.6 L674.6,194.8 L675.2,197.6 L675.8,194.9 L676.4,198.2 L677.0,195.0 L677.6,197.0 L678.2,194.8 L678.8,197.0 L679.4,193.9 L680.0,197.4 L680.6,195.0 L681.2,197.1 L681.8,194.7 L682.4,197.0 L683.0,195.1 L683.6,197.2 L684.2,194.8 L684.8,198.7 L686.0,196.0 L686.5,210.0 L687.5,297.5 L689.0,296.0 L689.0,296.9 L689.6,294.9 L690.2,297.3 L690.8,294.7 L691.4,297.1 L692.0,294.5 L692.6,296.7 L693.2,294.4 L693.8,296.9 L694.4,294.4 L695.0,298.0 L695.6,294.3 L696.2,297.7 L696.8,294.3 L697.4,297.0 L698.0,294.4 L698.6,296.7 L699.2,294.8 L699.8,296.5 L700.4,294.3 L701.0,297.0 L701.6,294.4 L702.2,296.9 L702.8,292.4 L703.4,296.7 L704.0,294.3" stroke="#e9ad00" stroke-width="2.6" fill="none" stroke-linejoin="round"/>
<path d="M58.0,449.6 L59.6,433.0 L61.3,448.4 L62.9,432.5 L64.6,448.5 L66.2,433.0 L67.9,447.8 L69.6,433.0 L71.2,447.8 L72.9,433.2 L74.5,447.4 L76.2,434.4 L77.8,446.6 L79.5,433.7 L81.1,446.4 L82.8,434.0 L84.4,445.8 L86.1,434.0 L87.7,446.1 L89.4,434.7 L91.0,445.0 L92.7,434.3 L94.3,445.1 L96.0,435.3 L97.6,445.0 L99.3,434.5 L100.9,444.1 L102.6,434.8 L104.2,444.3 L105.9,434.7 L107.5,443.8 L109.2,435.7 L110.8,443.8 L112.5,434.6 L114.1,442.7 L115.8,434.7 L117.4,443.2 L119.1,435.3 L120.7,442.8 L122.4,435.1 L124.0,442.4 L125.7,435.3 L127.3,442.4 L129.0,435.6 L130.6,442.3 L132.3,435.4 L133.9,442.3 L135.6,435.4 L137.2,441.8 L138.9,434.4 L140.5,441.5 L142.2,435.3 L143.8,441.0 L145.5,435.3 L147.1,440.5 L148.8,435.3 L150.4,440.6 L152.1,434.9 L153.7,440.2 L155.4,434.3 L157.0,440.1 L158.7,434.3 L160.3,439.6 L162.0,434.3 L163.6,440.5 L165.3,434.5 L166.9,440.3 L168.6,434.5 L170.2,440.0 L171.9,434.7 L173.5,439.7 L175.2,433.7 L176.8,438.9 L178.5,433.8 L180.1,438.5 L181.8,433.4 L183.4,439.3 L185.1,434.1 L186.7,438.5 L188.4,433.8 L191.0,436.0 L192.5,420.0 L193.5,466.0 L194.5,430.0 L196.0,445.0 L197.0,428.0 L198.0,450.0 L199.5,438.0 L200.5,436.0 L201.5,405.0 L202.0,380.0 L202.5,360.0 L203.0,372.8 L204.7,356.3 L206.3,372.3 L208.0,356.4 L209.6,370.9 L211.3,357.2 L212.9,370.7 L214.6,357.4 L216.2,370.4 L217.9,357.7 L219.5,370.7 L221.2,357.6 L222.8,369.9 L224.5,358.5 L226.1,369.6 L227.8,359.1 L229.4,369.2 L231.1,359.3 L232.7,369.3 L234.4,359.6 L236.0,368.3 L237.7,358.9 L239.3,368.4 L241.0,359.9 L242.6,367.9 L244.3,359.3 L245.9,368.6 L247.6,360.3 L249.2,367.8 L250.9,359.8 L252.5,368.3 L254.2,360.2 L255.8,368.2 L257.5,360.4 L259.1,367.5 L260.8,359.9 L262.4,367.2 L264.1,360.5 L265.7,367.3 L267.4,360.1 L269.0,368.2 L270.0,367.2 L271.6,361.2 L273.3,367.3 L274.9,361.3 L276.6,367.4 L278.2,361.0 L279.9,366.7 L281.5,360.8 L283.2,366.7 L284.8,361.3 L286.5,366.9 L288.1,361.1 L289.8,367.4 L291.4,362.2 L293.1,367.7 L294.7,361.5 L296.4,367.9 L298.0,361.4 L299.7,367.1 L301.3,361.7 L303.0,367.6 L304.6,362.2 L306.3,367.7 L307.9,362.4 L309.6,367.3 L311.2,362.7 L312.9,367.7 L314.5,362.7 L316.2,367.4 L317.8,362.8 L319.5,367.7 L321.1,362.9 L322.8,368.5 L324.4,362.8 L326.1,367.9 L327.7,362.1 L329.4,367.9 L331.0,363.2 L332.7,367.9 L334.3,363.0 L336.0,368.5 L337.6,363.1 L339.3,368.1 L340.9,362.6 L342.6,368.1 L344.2,363.7 L345.9,368.5 L347.5,363.4 L349.2,368.8 L351.0,366.0 L352.5,372.0 L353.5,400.0 L355.0,403.0 L356.0,438.0 L358.0,440.0 L361.0,442.0 L363.0,437.0 L364.2,411.0 L365.3,473.0 L366.5,430.0 L367.0,452.7 L368.6,428.9 L370.3,451.3 L371.9,430.6 L373.6,450.4 L375.2,431.4 L376.9,449.7 L378.5,431.7 L380.2,448.7 L381.8,432.2 L383.5,448.1 L385.1,432.1 L386.8,447.7 L388.4,432.1 L390.1,446.8 L391.7,433.2 L393.4,446.3 L395.0,432.9 L396.7,446.3 L398.3,432.9 L400.0,445.2 L401.6,433.0 L403.3,445.0 L404.9,433.3 L406.6,444.9 L408.2,433.5 L409.9,444.8 L411.5,433.0 L413.2,444.3 L414.8,433.9 L416.5,443.4 L418.1,433.0 L419.8,443.4 L421.4,433.0 L423.1,443.1 L424.7,433.7 L426.4,442.4 L428.0,432.9 L429.7,442.6 L430.0,441.6 L431.6,433.7 L433.3,441.8 L434.9,433.5 L436.6,441.3 L438.2,433.7 L439.9,441.6 L441.5,434.4 L443.2,441.6 L444.8,433.3 L446.5,441.1 L448.1,434.0 L449.8,441.4 L451.4,434.1 L453.1,441.8 L454.7,434.1 L456.4,440.7 L458.0,434.1 L459.7,441.1 L461.3,433.2 L463.0,440.5 L464.6,433.9 L466.3,440.5 L467.9,432.9 L469.6,440.5 L471.2,433.9 L472.9,440.6 L474.5,433.6 L476.2,440.0 L477.8,433.2 L479.5,440.2 L481.1,432.8 L482.8,440.5 L484.4,433.0 L486.1,439.8 L487.7,433.7 L489.4,440.1 L491.0,432.6 L492.7,439.5 L494.3,433.1 L496.0,440.0 L497.6,432.3 L499.3,439.8 L500.9,433.1 L502.6,439.8 L504.2,432.5 L505.9,439.7 L507.5,432.8 L509.2,439.8 L510.8,432.2 L512.5,439.9 L514.1,433.1 L516.0,436.0 L517.5,416.0 L518.5,467.0 L520.0,428.0 L521.0,450.0 L522.5,437.0 L524.0,430.0 L525.0,400.0 L525.5,356.0 L527.0,373.3 L528.6,355.7 L530.3,372.2 L531.9,356.4 L533.6,371.4 L535.2,356.1 L536.9,371.4 L538.5,357.4 L540.2,370.4 L541.8,357.0 L543.5,369.9 L545.1,357.7 L546.8,369.7 L548.4,357.7 L550.1,370.1 L551.7,358.5 L553.4,370.0 L555.0,358.5 L556.7,369.4 L558.3,358.3 L560.0,369.5 L561.6,358.8 L563.3,368.8 L564.9,359.3 L566.6,369.1 L568.2,359.5 L569.9,369.0 L571.5,359.8 L573.2,367.9 L574.8,360.2 L576.5,367.8 L578.1,360.5 L579.8,368.0 L581.4,359.7 L583.1,368.5 L584.7,359.9 L586.4,367.7 L588.0,360.0 L589.7,367.9 L591.3,359.7 L593.0,367.5 L594.6,360.0 L596.3,368.0 L597.9,359.8 L599.6,367.7 L600.0,366.7 L601.6,361.0 L603.3,367.1 L604.9,361.4 L606.6,366.7 L608.2,360.9 L609.9,366.7 L611.5,361.8 L613.2,366.8 L614.8,360.9 L616.5,367.3 L618.1,361.5 L619.8,367.8 L621.4,361.0 L623.1,367.0 L624.7,361.2 L626.4,367.5 L628.0,361.6 L629.7,367.4 L631.3,362.2 L633.0,367.7 L634.6,362.3 L636.3,368.1 L637.9,361.6 L639.6,368.2 L641.2,361.9 L642.9,367.2 L644.5,362.6 L646.2,367.3 L647.8,361.6 L649.5,367.6 L651.1,362.0 L652.8,368.4 L654.4,362.8 L656.1,367.8 L657.7,362.4 L659.4,368.4 L661.0,362.8 L662.7,368.2 L664.3,362.6 L666.0,367.6 L667.6,362.3 L669.3,368.3 L670.9,362.8 L672.6,368.6 L675.5,366.0 L676.5,372.0 L677.5,400.0 L678.5,437.0 L681.0,440.0 L684.0,441.0 L686.0,411.0 L687.0,472.0 L688.5,430.0 L689.0,458.5 L690.6,429.0 L692.3,456.9 L693.9,428.6 L695.6,457.1 L697.2,429.8 L698.9,455.7 L700.5,430.4 L702.2,455.3 L703.8,430.3" stroke="#4b6ba2" stroke-width="2.6" fill="none" stroke-linejoin="round"/>
<path d="M58.0,524.1 L58.6,520.2 L59.2,524.2 L59.8,521.7 L60.4,523.8 L61.0,521.7 L61.6,524.2 L62.2,521.5 L62.8,523.9 L63.4,521.5 L64.0,524.0 L64.6,521.5 L65.2,524.3 L65.8,521.7 L66.4,523.8 L67.0,521.9 L67.6,523.8 L68.2,521.8 L68.8,523.8 L69.4,521.4 L70.0,523.9 L70.6,521.8 L71.2,525.5 L71.8,521.9 L72.4,524.3 L73.0,521.5 L73.6,524.1 L74.2,521.4 L74.8,524.2 L75.4,521.8 L76.0,524.1 L76.6,521.4 L77.2,525.1 L77.8,521.5 L78.4,524.6 L79.0,520.5 L79.6,523.8 L80.2,520.4 L80.8,524.2 L81.4,521.8 L82.0,523.9 L82.6,521.7 L83.2,524.6 L83.8,521.8 L84.4,524.0 L85.0,521.7 L85.6,524.0 L86.2,521.6 L86.8,524.2 L87.4,521.9 L88.0,524.0 L88.6,521.4 L89.2,524.1 L89.8,521.8 L90.4,523.6 L91.0,521.3 L91.6,523.7 L92.2,521.4 L92.8,523.6 L93.4,521.4 L94.0,523.9 L94.6,521.6 L95.2,523.8 L95.8,521.8 L96.4,523.6 L97.0,521.4 L97.6,523.8 L98.2,521.6 L98.8,523.9 L99.4,521.7 L100.0,523.9 L100.6,521.3 L101.2,523.9 L101.8,521.5 L102.4,523.4 L103.0,520.4 L103.6,523.5 L104.2,521.1 L104.8,523.5 L105.4,521.4 L106.0,523.6 L106.6,521.3 L107.2,524.6 L107.8,521.4 L108.4,523.8 L109.0,521.5 L109.6,523.8 L110.2,521.4 L110.8,523.9 L111.4,521.2 L112.0,523.6 L112.6,519.7 L113.2,523.9 L113.8,521.3 L114.4,525.0 L115.0,521.1 L115.6,523.3 L116.2,521.5 L116.8,523.3 L117.4,521.1 L118.0,524.3 L118.6,521.2 L119.2,523.3 L119.8,521.1 L120.4,523.4 L121.0,521.4 L121.6,523.3 L122.2,521.0 L122.8,523.8 L123.4,520.9 L124.0,523.4 L124.6,521.0 L125.2,523.3 L125.8,520.9 L126.4,523.7 L127.0,521.3 L127.6,523.5 L128.2,521.4 L128.8,523.3 L129.4,521.0 L130.0,523.2 L130.6,520.9 L131.2,525.1 L131.8,521.0 L132.4,523.7 L133.0,520.9 L133.6,523.3 L134.2,521.2 L134.8,523.3 L135.4,521.3 L136.0,523.3 L136.6,520.8 L137.2,523.2 L137.8,520.8 L138.4,523.5 L139.0,520.8 L139.6,523.5 L140.2,520.8 L140.8,523.4 L141.4,520.8 L142.0,523.6 L142.6,520.7 L143.2,523.6 L143.8,520.9 L144.4,523.0 L145.0,520.9 L145.6,523.2 L146.2,520.8 L146.8,523.1 L147.4,521.1 L148.0,524.8 L148.6,520.3 L149.2,523.4 L149.8,521.0 L150.4,523.5 L151.0,521.0 L151.6,523.5 L152.2,520.6 L152.8,523.1 L153.4,520.8 L154.0,523.3 L154.6,520.9 L155.2,523.1 L155.8,520.8 L156.4,523.1 L157.0,520.6 L157.6,522.9 L158.2,521.2 L158.8,523.1 L159.4,520.9 L160.0,523.2 L160.6,520.6 L161.2,523.0 L161.8,520.6 L162.4,523.4 L163.0,520.8 L163.6,523.3 L164.2,521.0 L164.8,523.0 L165.4,521.0 L166.0,523.1 L166.6,521.0 L167.2,523.4 L167.8,520.6 L168.4,523.4 L169.0,520.6 L169.6,523.0 L170.2,519.6 L170.8,523.3 L171.4,520.4 L172.0,523.3 L172.6,520.9 L173.2,523.2 L173.8,520.6 L174.4,522.9 L175.0,520.7 L175.6,523.9 L176.2,520.5 L176.8,522.8 L177.4,520.7 L178.0,523.1 L178.6,520.9 L179.2,523.1 L179.8,520.5 L180.4,522.8 L181.0,518.6 L181.6,522.9 L182.2,520.9 L182.8,523.1 L183.4,520.6 L184.0,523.3 L184.6,520.4 L185.2,522.7 L185.8,520.6 L186.4,522.8 L187.0,520.8 L187.6,522.7 L188.2,520.6 L188.8,522.9 L189.4,520.2 L190.0,523.2 L191.5,522.0 L192.5,540.0 L193.0,625.0 L195.0,624.0 L196.0,622.5 L196.6,620.6 L197.2,622.3 L197.8,620.0 L198.4,622.5 L199.0,620.4 L199.6,622.5 L200.2,620.0 L200.8,622.2 L201.4,620.0 L202.0,622.6 L202.6,620.2 L203.2,622.3 L203.8,620.0 L204.4,622.7 L205.0,620.2 L205.6,622.6 L206.2,619.9 L206.8,622.7 L207.4,620.1 L208.0,622.1 L208.6,618.7 L209.2,622.3 L209.8,620.0 L210.4,622.2 L211.0,619.6 L211.6,622.2 L212.2,620.0 L212.8,622.4 L213.4,619.9 L214.0,622.1 L214.6,619.8 L215.2,622.0 L215.8,620.0 L216.4,621.8 L217.0,620.1 L217.6,621.8 L218.2,620.0 L218.8,622.2 L219.4,619.4 L220.0,622.0 L220.6,619.9 L221.2,621.9 L221.8,619.5 L222.4,621.9 L223.0,619.3 L223.6,622.0 L224.2,618.9 L224.8,621.5 L225.4,619.4 L226.0,621.6 L226.6,619.4 L227.2,622.1 L227.8,619.1 L228.4,621.7 L229.0,619.6 L229.6,622.1 L230.2,619.6 L230.8,621.5 L231.4,617.9 L232.0,623.0 L232.6,619.1 L233.2,621.6 L233.8,619.2 L234.4,621.5 L235.0,619.0 L235.6,621.6 L236.2,619.4 L236.8,623.3 L237.4,619.0 L238.0,621.2 L238.6,619.2 L239.2,621.5 L239.8,619.2 L240.4,621.7 L241.0,619.0 L241.6,621.3 L242.2,618.8 L242.8,621.6 L243.4,618.7 L244.0,621.2 L244.6,619.1 L245.2,621.1 L245.8,619.0 L246.4,621.5 L247.0,618.6 L247.6,621.0 L248.2,618.8 L248.8,621.3 L249.4,618.6 L250.0,621.3 L250.6,619.0 L251.2,621.4 L251.8,618.7 L252.4,621.3 L253.0,619.1 L253.6,621.3 L254.2,618.7 L254.8,621.0 L255.4,618.5 L256.0,621.0 L256.6,618.5 L257.2,621.0 L257.8,618.8 L258.4,621.0 L259.0,618.5 L259.6,622.9 L260.2,618.7 L260.8,620.8 L261.4,618.8 L262.0,622.5 L262.6,618.9 L263.2,622.5 L263.8,618.7 L264.4,621.1 L265.0,618.3 L265.6,620.7 L266.2,618.9 L266.8,620.9 L267.4,618.8 L268.0,620.9 L268.6,618.7 L269.2,620.7 L269.8,618.5 L270.4,621.1 L271.0,618.5 L271.6,620.8 L272.2,618.2 L272.8,621.0 L273.4,618.7 L274.0,621.0 L274.6,618.2 L275.2,620.9 L275.8,618.5 L276.4,620.5 L277.0,618.5 L277.6,620.7 L278.2,618.3 L278.8,620.5 L279.4,618.5 L280.0,621.1 L280.6,618.4 L281.2,620.6 L281.8,617.5 L282.4,620.5 L283.0,618.3 L283.6,621.0 L284.2,618.5 L284.8,620.8 L285.4,618.1 L286.0,620.6 L286.6,618.5 L287.2,620.5 L287.8,617.2 L288.4,620.4 L289.0,618.5 L289.6,620.7 L290.2,618.0 L290.8,620.7 L291.4,617.4 L292.0,620.9 L292.6,617.0 L293.2,620.8 L293.8,617.0 L294.4,620.3 L295.0,618.5 L295.6,620.4 L296.2,618.2 L296.8,620.8 L297.4,616.4 L298.0,620.8 L298.6,618.0 L299.2,620.2 L299.8,618.0 L300.4,620.8 L301.0,618.0 L301.6,620.2 L302.2,618.1 L302.8,620.7 L303.4,618.4 L304.0,620.2 L304.6,617.9 L305.2,620.4 L305.8,618.1 L306.4,621.3 L307.0,618.2 L307.6,620.6 L308.2,617.9 L308.8,620.1 L309.4,618.2 L310.0,620.6 L310.6,618.0 L311.2,620.4 L311.8,617.8 L312.4,621.1 L313.0,618.2 L313.6,620.5 L314.2,618.2 L314.8,620.7 L315.4,618.3 L316.0,620.3 L316.6,617.9 L317.2,621.1 L317.8,617.8 L318.4,620.1 L319.0,618.3 L319.6,620.3 L320.2,617.9 L320.8,620.4 L321.4,617.9 L322.0,620.5 L322.6,616.7 L323.2,620.3 L323.8,618.3 L324.4,620.7 L325.0,618.2 L325.6,620.2 L326.2,617.9 L326.8,621.4 L327.4,617.7 L328.0,620.1 L328.6,618.0 L329.2,620.4 L329.8,617.8 L330.4,620.6 L331.0,618.0 L331.6,620.3 L332.2,617.9 L332.8,620.4 L333.4,618.3 L334.0,620.5 L334.6,616.7 L335.2,620.4 L335.8,617.8 L336.4,620.4 L337.0,617.6 L337.6,619.9 L338.2,617.8 L338.8,620.4 L339.4,617.7 L340.0,620.0 L340.6,617.0 L341.2,620.2 L341.8,617.6 L342.4,620.5 L343.0,617.7 L343.6,620.6 L344.2,617.6 L344.8,620.0 L345.4,617.9 L346.0,620.2 L346.6,617.9 L347.2,620.1 L347.8,617.9 L348.4,620.3 L349.0,617.9 L349.6,620.4 L350.2,617.7 L350.8,620.0 L351.4,617.9 L352.0,620.1 L352.6,617.7 L353.2,620.2 L353.8,618.1 L354.4,620.1 L355.0,618.0 L355.6,620.4 L356.2,618.0 L356.8,620.3 L357.4,617.8 L358.0,621.2 L358.6,618.2 L359.2,620.2 L359.8,617.5 L360.4,620.0 L361.0,618.1 L361.6,620.3 L363.2,619.0 L363.8,590.0 L364.5,585.0 L365.0,520.0 L366.0,516.5 L368.0,519.0 L369.0,522.6 L369.6,520.4 L370.2,522.9 L370.8,520.1 L371.4,522.6 L372.0,520.1 L372.6,522.5 L373.2,520.1 L373.8,522.6 L374.4,520.1 L375.0,522.5 L375.6,520.5 L376.2,523.0 L376.8,520.5 L377.4,523.8 L378.0,519.3 L378.6,522.9 L379.2,520.3 L379.8,524.0 L380.4,520.4 L381.0,522.6 L381.6,520.2 L382.2,522.9 L382.8,519.5 L383.4,522.9 L384.0,520.5 L384.6,522.6 L385.2,520.6 L385.8,523.1 L386.4,520.2 L387.0,523.1 L387.6,520.5 L388.2,522.6 L388.8,520.4 L389.4,523.1 L390.0,519.1 L390.6,522.7 L391.2,520.4 L391.8,523.0 L392.4,520.4 L393.0,522.8 L393.6,520.7 L394.2,522.7 L394.8,519.9 L395.4,522.7 L396.0,520.7 L396.6,522.8 L397.2,520.6 L397.8,522.8 L398.4,520.7 L399.0,523.2 L399.6,520.4 L400.2,522.9 L400.8,520.7 L401.4,522.7 L402.0,520.8 L402.6,523.1 L403.2,520.8 L403.8,523.3 L404.4,520.8 L405.0,523.0 L405.6,521.0 L406.2,523.2 L406.8,520.8 L407.4,523.3 L408.0,520.6 L408.6,524.3 L409.2,520.5 L409.8,523.2 L410.4,520.8 L411.0,522.9 L411.6,520.7 L412.2,523.2 L412.8,520.8 L413.4,523.2 L414.0,520.8 L414.6,523.2 L415.2,521.1 L415.8,523.3 L416.4,520.8 L417.0,523.3 L417.6,520.9 L418.2,523.3 L418.8,521.0 L419.4,523.5 L420.0,520.8 L420.6,525.1 L421.2,520.6 L421.8,523.1 L422.4,521.2 L423.0,525.0 L423.6,521.0 L424.2,523.4 L424.8,520.7 L425.4,523.6 L426.0,521.3 L426.6,524.4 L427.2,521.2 L427.8,523.2 L428.4,520.7 L429.0,523.6 L429.6,521.1 L430.2,523.2 L430.8,520.8 L431.4,523.2 L432.0,520.8 L432.6,523.5 L433.2,521.3 L433.8,523.4 L434.4,521.1 L435.0,523.7 L435.6,520.9 L436.2,523.2 L436.8,521.2 L437.4,523.2 L438.0,521.2 L438.6,525.0 L439.2,521.0 L439.8,523.4 L440.4,521.2 L441.0,523.6 L441.6,521.1 L442.2,523.7 L442.8,521.1 L443.4,523.3 L444.0,521.2 L444.6,523.2 L445.2,521.0 L445.8,523.4 L446.4,521.3 L447.0,523.1 L447.6,521.3 L448.2,523.5 L448.8,521.0 L449.4,523.6 L450.0,520.9 L450.6,523.6 L451.2,521.2 L451.8,523.8 L452.4,521.4 L453.0,523.5 L453.6,521.3 L454.2,523.4 L454.8,521.3 L455.4,523.2 L456.0,521.1 L456.6,523.4 L457.2,521.4 L457.8,524.8 L458.4,521.1 L459.0,523.2 L459.6,521.2 L460.2,523.3 L460.8,521.0 L461.4,524.9 L462.0,521.0 L462.6,523.5 L463.2,521.4 L463.8,524.7 L464.4,521.4 L465.0,523.1 L465.6,521.3 L466.2,523.4 L466.8,520.9 L467.4,523.2 L468.0,521.4 L468.6,523.2 L469.2,520.9 L469.8,524.8 L470.4,521.2 L471.0,523.3 L471.6,521.4 L472.2,523.4 L472.8,521.1 L473.4,523.6 L474.0,521.3 L474.6,523.7 L475.2,521.0 L475.8,523.4 L476.4,521.3 L477.0,524.8 L477.6,520.8 L478.2,523.1 L478.8,521.0 L479.4,523.4 L480.0,521.2 L480.6,523.6 L481.2,521.0 L481.8,524.8 L482.4,521.2 L483.0,523.3 L483.6,521.0 L484.2,523.6 L484.8,521.0 L485.4,523.1 L486.0,521.4 L486.6,523.1 L487.2,521.2 L487.8,523.3 L488.4,521.1 L489.0,523.4 L489.6,520.8 L490.2,523.4 L490.8,520.8 L491.4,523.5 L492.0,521.1 L492.6,523.2 L493.2,521.4 L493.8,523.6 L494.4,521.1 L495.0,523.2 L495.6,521.1 L496.2,523.7 L496.8,521.2 L497.4,524.6 L498.0,520.8 L498.6,523.4 L499.2,521.4 L499.8,523.1 L500.4,519.7 L501.0,523.1 L501.6,521.4 L502.2,523.2 L502.8,521.3 L503.4,523.4 L504.0,520.8 L504.6,523.2 L505.2,519.3 L505.8,523.1 L506.4,521.1 L507.0,523.6 L507.6,521.3 L508.2,523.4 L508.8,521.2 L509.4,523.2 L510.0,521.2 L510.6,523.2 L511.2,520.9 L511.8,523.6 L512.4,521.2 L513.0,523.4 L513.6,520.9 L514.2,523.3 L514.8,521.2 L516.2,522.0 L516.6,585.0 L517.5,590.0 L517.8,625.0 L520.0,623.0 L521.0,622.4 L521.6,619.5 L522.2,622.4 L522.8,620.0 L523.4,622.2 L524.0,618.1 L524.6,621.9 L525.2,619.7 L525.8,622.0 L526.4,620.0 L527.0,621.8 L527.6,619.6 L528.2,621.7 L528.8,619.4 L529.4,622.0 L530.0,619.5 L530.6,622.1 L531.2,619.6 L531.8,621.7 L532.4,619.3 L533.0,622.3 L533.6,619.4 L534.2,622.1 L534.8,619.3 L535.4,622.1 L536.0,619.4 L536.6,621.7 L537.2,619.3 L537.8,622.1 L538.4,619.7 L539.0,621.9 L539.6,619.6 L540.2,621.6 L540.8,619.6 L541.4,621.7 L542.0,619.6 L542.6,622.9 L543.2,617.8 L543.8,623.4 L544.4,619.6 L545.0,621.4 L545.6,619.2 L546.2,621.7 L546.8,619.5 L547.4,621.6 L548.0,619.1 L548.6,623.4 L549.2,619.1 L549.8,621.6 L550.4,619.5 L551.0,621.4 L551.6,619.5 L552.2,621.6 L552.8,619.1 L553.4,621.8 L554.0,619.2 L554.6,621.8 L555.2,619.5 L555.8,621.6 L556.4,619.1 L557.0,621.8 L557.6,619.2 L558.2,621.6 L558.8,619.4 L559.4,621.6 L560.0,619.0 L560.6,621.2 L561.2,619.1 L561.8,621.7 L562.4,619.1 L563.0,621.5 L563.6,618.7 L564.2,621.1 L564.8,619.3 L565.4,621.3 L566.0,619.0 L566.6,621.5 L567.2,619.1 L567.8,621.3 L568.4,618.8 L569.0,621.1 L569.6,618.6 L570.2,622.0 L570.8,619.2 L571.4,621.4 L572.0,618.6 L572.6,621.2 L573.2,619.2 L573.8,621.0 L574.4,619.1 L575.0,621.1 L575.6,618.9 L576.2,621.3 L576.8,618.7 L577.4,621.2 L578.0,618.4 L578.6,620.8 L579.2,618.6 L579.8,621.3 L580.4,618.4 L581.0,621.1 L581.6,618.8 L582.2,621.1 L582.8,618.6 L583.4,621.0 L584.0,618.6 L584.6,620.6 L585.2,618.6 L585.8,621.2 L586.4,618.6 L587.0,620.9 L587.6,617.2 L588.2,622.7 L588.8,618.9 L589.4,621.1 L590.0,618.6 L590.6,621.0 L591.2,618.4 L591.8,620.9 L592.4,618.3 L593.0,620.6 L593.6,618.5 L594.2,621.0 L594.8,618.4 L595.4,622.1 L596.0,618.4 L596.6,620.5 L597.2,618.5 L597.8,622.1 L598.4,618.6 L599.0,620.5 L599.6,618.3 L600.2,620.9 L600.8,618.6 L601.4,620.9 L602.0,618.0 L602.6,622.1 L603.2,618.1 L603.8,620.8 L604.4,618.2 L605.0,621.0 L605.6,618.1 L606.2,620.5 L606.8,618.2 L607.4,620.7 L608.0,618.5 L608.6,620.4 L609.2,618.1 L609.8,620.8 L610.4,618.6 L611.0,620.8 L611.6,618.6 L612.2,620.8 L612.8,618.1 L613.4,620.4 L614.0,618.0 L614.6,620.3 L615.2,618.6 L615.8,620.3 L616.4,618.2 L617.0,620.6 L617.6,618.6 L618.2,620.4 L618.8,618.1 L619.4,620.6 L620.0,618.5 L620.6,620.5 L621.2,618.1 L621.8,620.5 L622.4,618.0 L623.0,620.6 L623.6,618.0 L624.2,620.6 L624.8,618.0 L625.4,620.4 L626.0,618.3 L626.6,620.4 L627.2,617.9 L627.8,620.5 L628.4,618.0 L629.0,620.3 L629.6,618.1 L630.2,620.7 L630.8,618.3 L631.4,620.6 L632.0,618.0 L632.6,620.9 L633.2,617.9 L633.8,620.9 L634.4,618.0 L635.0,622.6 L635.6,618.0 L636.2,620.8 L636.8,618.1 L637.4,620.5 L638.0,618.0 L638.6,620.3 L639.2,618.4 L639.8,620.5 L640.4,618.0 L641.0,620.7 L641.6,617.2 L642.2,620.6 L642.8,617.9 L643.4,620.5 L644.0,618.5 L644.6,620.6 L645.2,618.3 L645.8,620.4 L646.4,618.3 L647.0,620.6 L647.6,618.5 L648.2,620.4 L648.8,618.0 L649.4,620.7 L650.0,618.2 L650.6,621.7 L651.2,618.1 L651.8,620.8 L652.4,617.0 L653.0,620.6 L653.6,618.5 L654.2,620.2 L654.8,618.1 L655.4,620.5 L656.0,618.4 L656.6,620.7 L657.2,618.1 L657.8,620.7 L658.4,618.1 L659.0,620.6 L659.6,617.9 L660.2,620.5 L660.8,618.5 L661.4,620.3 L662.0,618.5 L662.6,620.8 L663.2,618.0 L663.8,620.3 L664.4,618.3 L665.0,620.4 L665.6,618.1 L666.2,620.8 L666.8,616.2 L667.4,620.2 L668.0,618.3 L668.6,620.4 L669.2,618.0 L669.8,620.7 L670.4,618.5 L671.0,620.3 L671.6,618.5 L672.2,620.6 L672.8,618.1 L673.4,620.6 L674.0,618.4 L674.6,620.6 L675.2,618.4 L675.8,620.4 L676.4,618.3 L677.0,620.5 L677.6,618.0 L678.2,620.6 L678.8,618.4 L679.4,620.5 L680.0,617.9 L680.6,620.3 L681.2,618.0 L681.8,620.3 L682.4,616.7 L683.0,620.3 L683.6,618.2 L684.2,620.1 L684.8,616.6 L686.5,619.0 L687.0,590.0 L687.5,585.0 L688.0,520.0 L689.0,516.5 L691.0,519.0 L692.0,522.0 L692.6,520.1 L693.2,522.0 L693.8,520.1 L694.4,522.3 L695.0,520.0 L695.6,522.5 L696.2,519.8 L696.8,522.5 L697.4,520.3 L698.0,522.8 L698.6,520.5 L699.2,524.3 L699.8,520.5 L700.4,522.9 L701.0,520.4 L701.6,522.5 L702.2,520.5 L702.8,522.6 L703.4,520.8 L704.0,522.6" stroke="#e9ad00" stroke-width="2.6" fill="none" stroke-linejoin="round"/>
<path d="M801.0,88.0 L806.0,94.2 L811.1,87.3 L816.9,84.5 L821.5,85.0 L828.4,89.1 L834.2,85.0 L838.8,85.0 L844.6,89.1 L849.2,85.0 L854.5,91.9 L859.5,89.6 L865.3,96.5 L871.0,93.7 L876.8,92.6 L882.6,96.5 L887.2,97.2 L896.4,108.0 L902.2,106.4 L907.9,118.0 L912.5,120.3 L921.8,131.8 L929.8,137.5 L934.4,149.0 L940.2,164.0 L946.0,168.0 L950.6,166.3 L960.9,187.8 L967.7,192.8 L983.0,215.9 L988.2,219.7 L993.3,226.1 L998.9,240.7 L1003.5,238.9 L1008.7,243.5 L1013.8,255.6 L1020.2,258.1 L1026.6,263.2 L1033.0,270.9 L1042.0,279.9 L1045.8,283.7 L1052.2,293.2 L1058.6,296.5 L1066.3,294.0 L1070.1,290.1 L1079.1,274.8 L1085.5,281.2 L1094.5,300.4 L1100.9,308.1 L1117.5,324.7 L1122.6,318.3 L1127.8,318.3 L1141.9,324.7 L1148.3,332.4 L1153.4,350.3 L1159.8,355.5 L1166.2,365.7 L1171.3,370.1 L1179.0,369.0 L1185.4,368.3 L1195.7,356.7 L1202.0,363.9 L1208.5,368.3 L1214.9,363.9 L1218.7,358.8 L1223.8,368.3 L1229.0,358.8 L1239.2,359.1 L1244.3,354.0 L1250.1,351.2 L1256.8,351.7 L1261.9,354.0 L1266.9,354.0 L1271.9,356.2 L1277.0,351.7 L1282.9,349.5 L1287.9,349.5 L1292.9,346.6 L1298.0,349.0 L1304.7,346.6 L1310.2,354.0 L1314.7,342.0 L1320.6,342.0 L1325.6,351.7 L1330.7,344.5 L1335.7,346.6 L1341.1,351.7 L1346.6,344.5 L1353.3,344.5 L1358.4,346.6 L1363.4,346.6 L1368.4,342.0 L1373.5,339.4 L1378.5,344.0 L1383.5,346.6 L1389.4,344.5 L1401.1,344.5 L1406.2,342.0 L1411.2,346.6 L1417.1,341.6 L1422.1,344.0 L1427.2,351.7 L1432.2,349.5 L1437.2,356.2 L1442.2,354.0 L1449.0,354.0 L1454.0,356.2 L1459.9,351.7 L1469.0,347.8" stroke="#4b6ba2" stroke-width="3.5" fill="none" stroke-linejoin="round" stroke-linecap="round"/>
<path d="M801.0,677.9 L811.1,677.9 L816.9,685.5 L822.2,677.9 L834.2,677.9 L839.9,680.2 L844.6,680.2 L850.3,673.3 L868.7,658.3 L876.8,656.0 L882.6,647.9 L887.2,638.7 L891.8,636.4 L897.6,632.5 L903.3,617.9 L907.9,609.9 L912.5,611.7 L918.3,600.2 L925.2,595.6 L932.1,574.2 L936.7,563.8 L940.7,562.6 L947.1,541.9 L956.4,526.5 L964.1,508.6 L970.5,503.4 L978.1,502.2 L988.4,494.5 L997.4,497.8 L1003.8,507.3 L1010.2,526.5 L1017.8,532.9 L1026.8,539.3 L1035.8,530.3 L1042.2,518.8 L1047.3,517.5 L1052.4,512.4 L1058.8,520.1 L1064.1,522.9 L1069.2,530.1 L1075.4,528.0 L1080.5,530.1 L1089.7,518.8 L1095.8,518.4 L1105.1,510.6 L1110.8,502.4 L1118.4,507.5 L1127.6,515.7 L1133.7,518.8 L1144.0,534.2 L1149.1,530.1 L1154.2,508.6 L1160.4,490.1 L1170.6,452.2 L1176.8,456.3 L1181.9,462.5 L1188.0,484.0 L1196.2,511.6 L1203.4,511.6 L1209.5,509.6 L1214.6,497.3 L1219.8,481.9 L1223.9,474.8 L1230.0,464.5 L1235.1,464.5 L1240.2,473.7 L1245.4,490.1 L1251.5,500.4 L1256.6,509.6 L1262.8,511.6 L1267.2,511.7 L1272.3,494.9 L1278.4,485.7 L1287.7,460.1 L1293.8,456.0 L1298.9,456.4 L1310.2,481.6 L1315.3,485.7 L1321.0,487.8 L1325.5,474.5 L1331.7,462.2 L1341.5,440.7 L1347.1,446.2 L1353.8,438.6 L1359.3,444.8 L1364.1,456.0 L1368.6,456.0 L1374.3,448.2 L1378.8,450.3 L1383.9,436.6 L1389.5,426.3 L1395.2,423.7 L1407.1,416.7 L1417.7,416.7 L1422.8,420.2 L1428.0,420.2 L1433.1,418.1 L1443.3,398.7 L1450.5,394.6 L1460.3,382.3 L1465.9,384.7 L1469.0,388.5" stroke="#4b6ba2" stroke-width="3.5" fill="none" stroke-linejoin="round" stroke-linecap="round"/>
<path d="M801.0,291.5 L810.7,291.5 L816.5,294.2 L821.6,289.1 L828.2,294.2 L833.7,291.7 L848.2,291.7 L854.2,294.4 L859.6,291.5 L869.9,296.0 L875.9,296.0 L883.2,293.6 L886.8,293.6 L892.2,296.0 L897.1,293.6 L901.9,296.0 L912.2,296.0 L918.2,291.1 L924.3,293.2 L932.7,293.2 L938.8,296.0 L944.8,296.0 L955.7,290.8 L960.5,293.6 L966.5,291.5 L977.9,296.5 L988.2,291.4 L994.6,294.0 L1013.8,294.0 L1021.5,289.6 L1031.7,289.6 L1047.1,282.5 L1050.9,270.9 L1057.3,262.0 L1065.0,254.3 L1070.1,246.6 L1075.3,236.4 L1081.7,227.4 L1086.8,217.1 L1090.6,205.6 L1095.8,193.0 L1099.6,184.7 L1105.3,170.9 L1112.3,158.2 L1118.0,149.0 L1122.6,135.2 L1133.0,121.4 L1148.0,92.6 L1153.7,88.0 L1159.5,75.7 L1165.2,73.0 L1171.0,63.3 L1175.6,63.3 L1180.2,56.9 L1186.0,47.2 L1191.7,44.2 L1197.5,43.5 L1204.4,41.2 L1209.0,39.6 L1213.6,35.0 L1219.4,32.0 L1225.1,32.7 L1229.7,34.3 L1238.4,34.3 L1246.8,31.4 L1256.8,34.8 L1261.9,29.2 L1267.8,31.7 L1280.3,31.7 L1288.7,34.8 L1298.0,31.7 L1305.5,34.3 L1325.6,34.3 L1331.5,28.7 L1338.2,30.4 L1347.4,32.1 L1354.2,34.8 L1363.4,34.8 L1369.3,31.7 L1373.5,34.8 L1379.3,31.7 L1388.6,29.2 L1393.6,32.1 L1401.1,29.2 L1406.2,31.7 L1426.3,31.7 L1432.2,29.2 L1438.0,32.1 L1469.0,32.1" stroke="#e9ad00" stroke-width="3.5" fill="none" stroke-linejoin="round" stroke-linecap="round"/>
<path d="M802.7,376.6 L811.6,376.6 L821.9,372.0 L833.4,376.6 L839.8,376.6 L846.2,372.0 L853.9,374.1 L860.3,372.0 L869.3,375.9 L892.3,375.9 L898.7,374.1 L902.6,375.9 L907.7,372.0 L912.8,374.1 L918.0,372.0 L925.6,375.9 L932.0,374.1 L941.0,375.9 L946.1,374.1 L956.4,382.5 L961.5,376.6 L974.3,382.5 L983.3,380.5 L989.7,388.7 L997.4,395.9 L1007.6,411.2 L1014.0,425.3 L1020.4,434.3 L1026.8,448.4 L1035.8,467.6 L1042.2,477.8 L1048.6,495.8 L1058.8,520.1 L1066.5,534.2 L1074.3,549.2 L1084.6,568.7 L1090.7,582.0 L1099.9,597.4 L1105.5,613.7 L1117.4,628.1 L1128.6,635.2 L1132.7,635.2 L1138.9,639.8 L1143.0,639.8 L1150.1,634.6 L1160.4,631.2 L1165.5,631.2 L1175.7,635.7 L1181.9,633.6 L1196.2,633.6 L1203.4,630.5 L1213.6,627.7 L1219.8,632.2 L1224.9,634.2 L1230.0,633.8 L1235.1,631.6 L1240.2,631.6 L1245.4,634.2 L1250.5,629.5 L1262.8,629.5 L1267.4,631.7 L1273.3,629.5 L1282.9,634.0 L1289.5,631.3 L1294.0,631.3 L1299.1,633.7 L1305.8,631.3 L1315.4,631.3 L1322.0,634.0 L1325.7,634.0 L1330.9,631.3 L1336.8,633.7 L1347.1,633.7 L1358.2,629.5 L1369.3,633.7 L1379.6,633.7 L1384.0,631.3 L1389.9,633.7 L1406.2,633.7 L1412.1,631.3 L1417.2,633.7 L1432.0,633.7 L1437.9,631.3 L1443.8,633.7 L1460.0,633.7 L1466.0,629.5 L1469.0,629.5" stroke="#e9ad00" stroke-width="3.5" fill="none" stroke-linejoin="round" stroke-linecap="round"/>
<rect x="57.8" y="35.0" width="647.0" height="647.2" fill="none" stroke="#000" stroke-width="2.6"/>
<rect x="801.4" y="25.1" width="668.6" height="670.4" fill="none" stroke="#000" stroke-width="2.6"/>
<g font-family="Liberation Serif, serif" font-size="40" fill="#000">
<text x="337.4" y="762.3">(<tspan font-weight="bold" dx="-0.6">a</tspan><tspan dx="-2.0">)</tspan></text>
<text x="1089.3" y="762.3">(<tspan font-weight="bold" dx="0.3">b</tspan><tspan dx="2.0">)</tspan></text>
</g>
</svg></body></html>
